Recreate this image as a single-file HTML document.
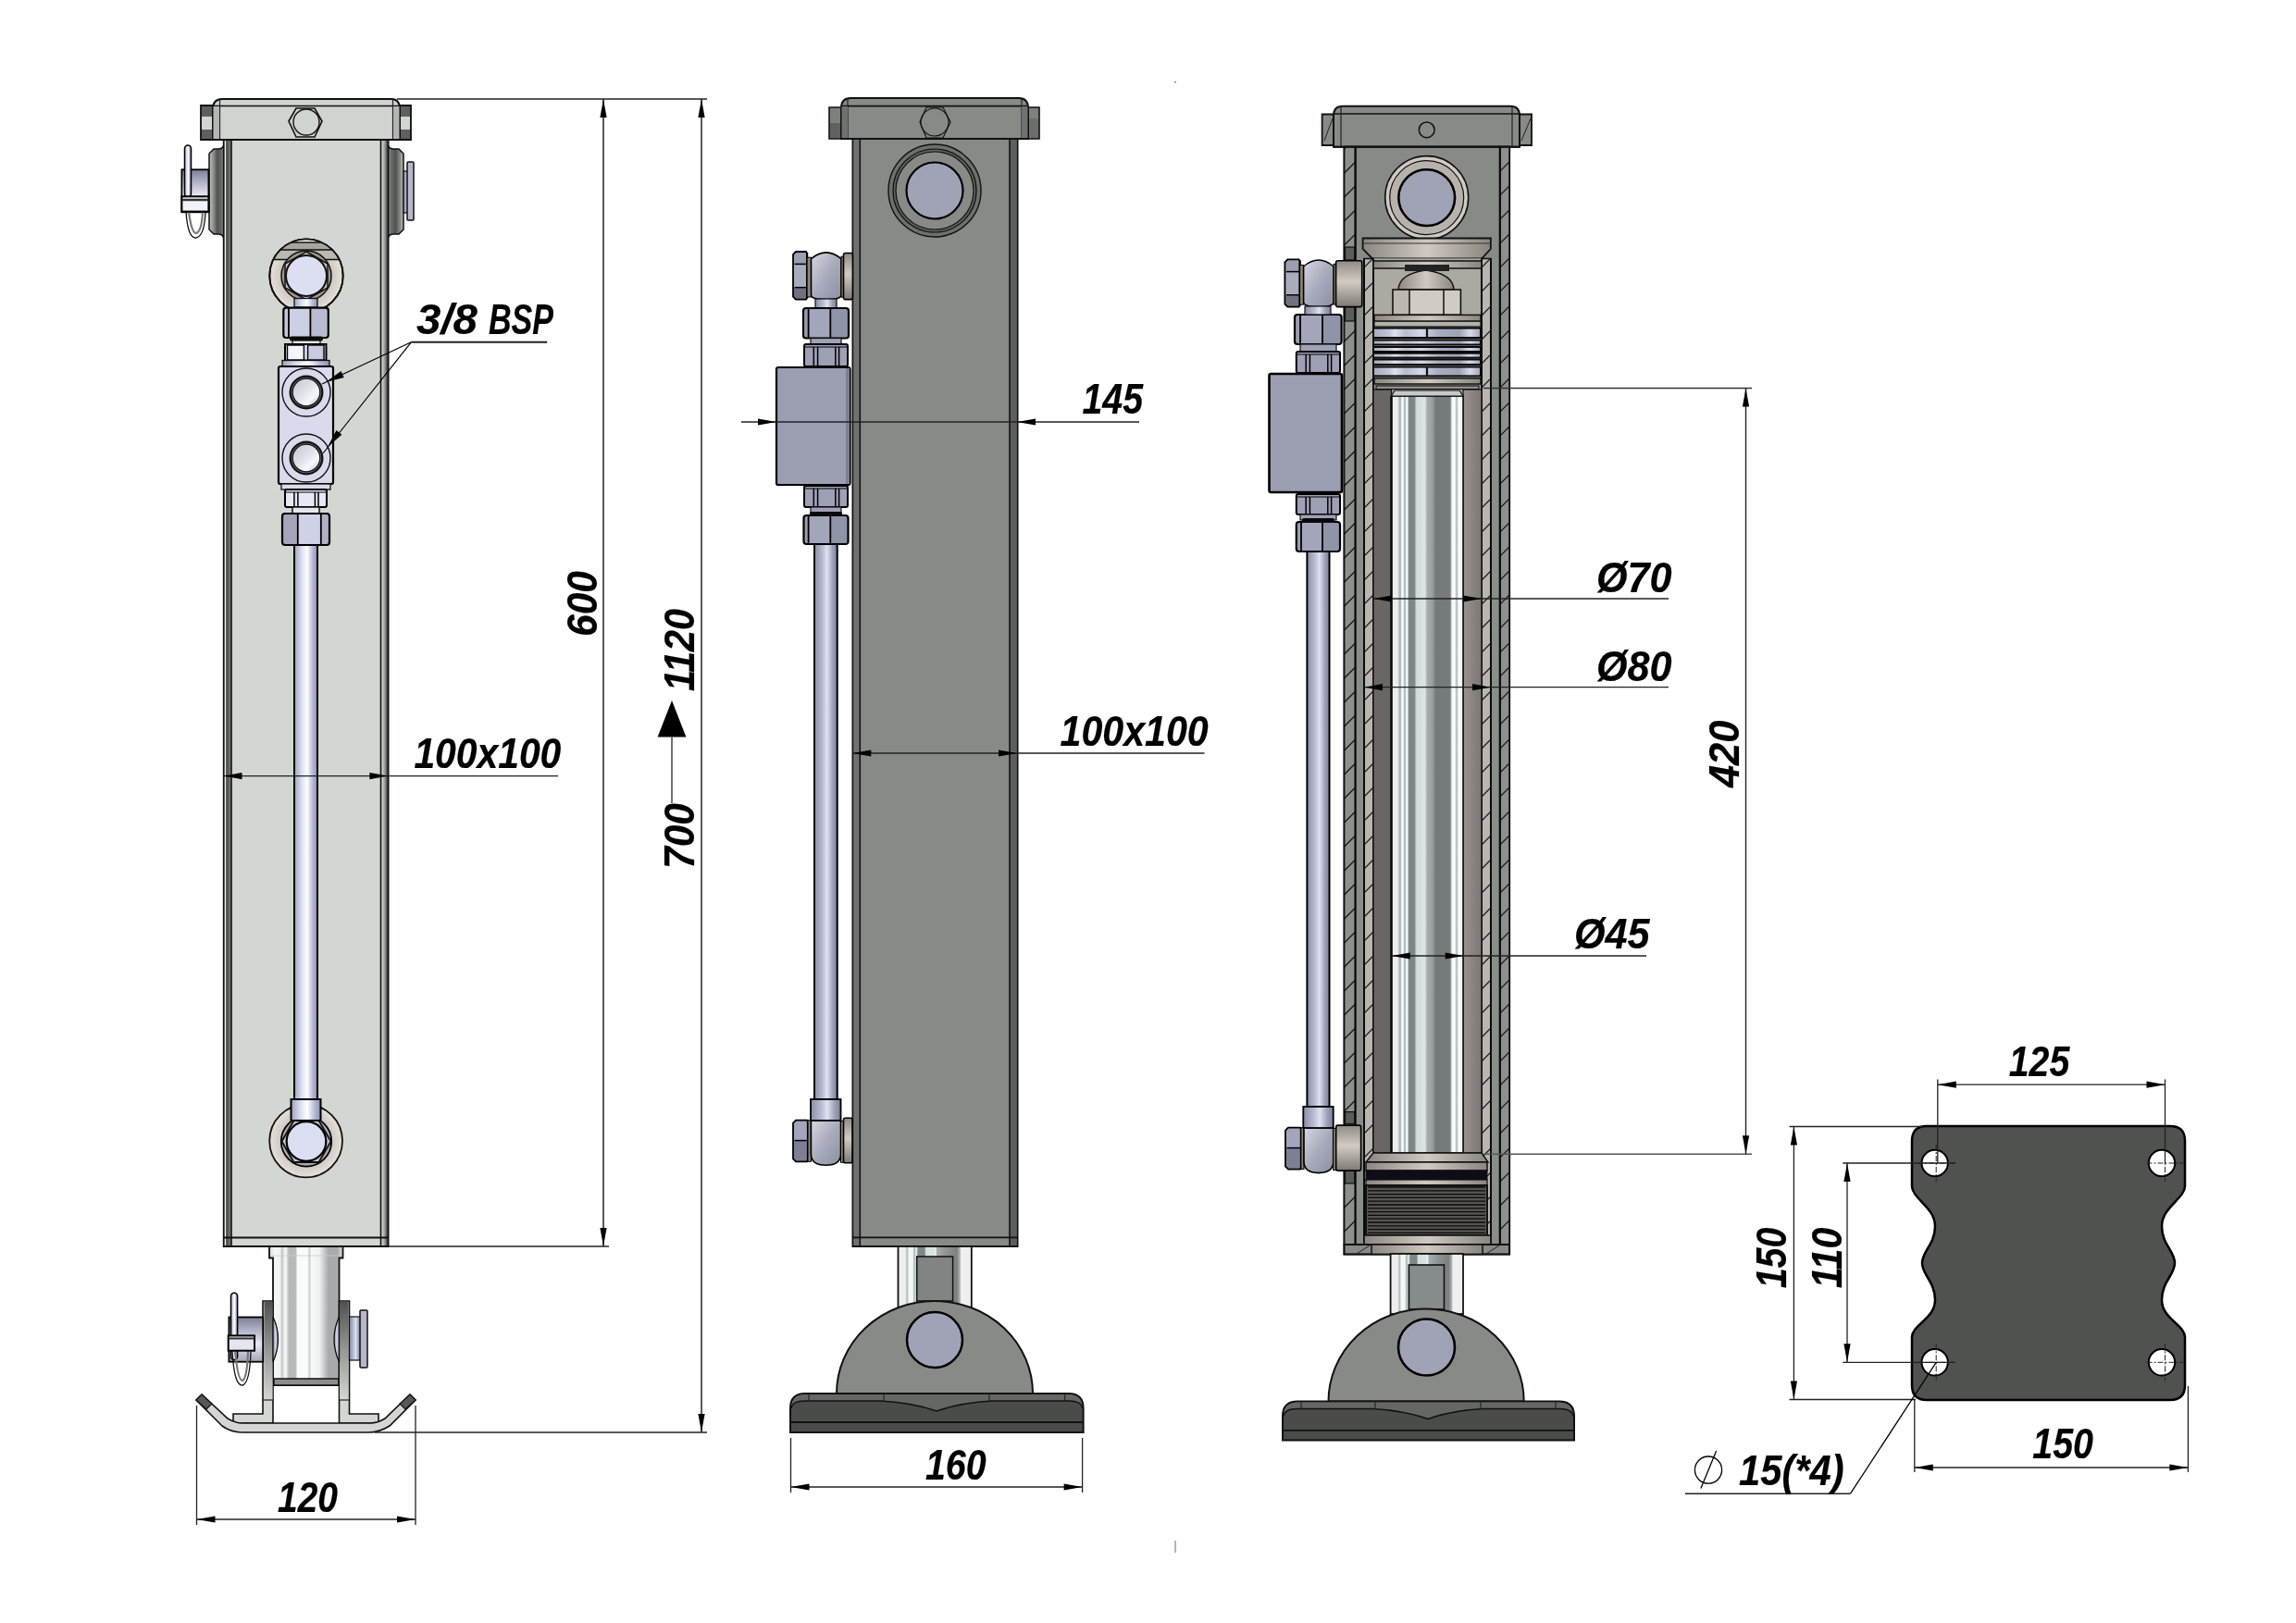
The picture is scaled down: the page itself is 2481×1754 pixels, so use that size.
<!DOCTYPE html>
<html><head><meta charset="utf-8"><style>
html,body{margin:0;padding:0;background:#fff;}
body{width:2481px;height:1754px;overflow:hidden;}
svg{display:block;will-change:transform;}
.t{font-family:"Liberation Sans",sans-serif;font-weight:bold;font-style:italic;fill:#000;stroke:#000;stroke-width:0.2px;}
</style></head><body>
<svg width="2481" height="1754" viewBox="0 0 2481 1754">
<rect width="2481" height="1754" fill="#fff"/>
<defs>
<linearGradient id="gBandL" x1="0" x2="1" y1="0" y2="0"><stop offset="0" stop-color="#f4f6f4"/><stop offset="0.2" stop-color="#f4f6f4"/><stop offset="0.24" stop-color="#4a4c49"/><stop offset="0.5" stop-color="#575a56"/><stop offset="1" stop-color="#868985"/></linearGradient>
<linearGradient id="gBandR" x1="0" x2="1" y1="0" y2="0"><stop offset="0" stop-color="#d0d5cf"/><stop offset="0.25" stop-color="#c9cec8"/><stop offset="0.65" stop-color="#8a8c88"/><stop offset="1" stop-color="#2a2c29"/></linearGradient>
<linearGradient id="gTube" x1="0" x2="1"><stop offset="0" stop-color="#9fa3bd"/><stop offset="0.3" stop-color="#d8dcf0"/><stop offset="0.55" stop-color="#ffffff"/><stop offset="0.8" stop-color="#b4b8d6"/><stop offset="1" stop-color="#8e92aa"/></linearGradient>
<linearGradient id="gTubeD" x1="0" x2="1"><stop offset="0" stop-color="#8a8ea6"/><stop offset="0.35" stop-color="#b9bcd2"/><stop offset="0.55" stop-color="#dfe2f2"/><stop offset="0.8" stop-color="#9da1b8"/><stop offset="1" stop-color="#7d8096"/></linearGradient>
<linearGradient id="gPost" x1="0" x2="1"><stop offset="0.000" stop-color="#d8dcdc"/><stop offset="0.080" stop-color="#f5f7f7"/><stop offset="0.150" stop-color="#f0f2f2"/><stop offset="0.170" stop-color="#c4c8c9"/><stop offset="0.220" stop-color="#fafbfb"/><stop offset="0.270" stop-color="#b4b8b8"/><stop offset="0.360" stop-color="#b8bcbc"/><stop offset="0.380" stop-color="#fafbfb"/><stop offset="0.520" stop-color="#fafbfb"/><stop offset="0.545" stop-color="#c8cccd"/><stop offset="0.570" stop-color="#f6f8f8"/><stop offset="0.680" stop-color="#eef2f2"/><stop offset="0.800" stop-color="#a8acac"/><stop offset="0.920" stop-color="#a6aaab"/><stop offset="1.000" stop-color="#e0e2e2"/></linearGradient><linearGradient id="gPostM" x1="0" x2="1"><stop offset="0.000" stop-color="#eceeee"/><stop offset="0.100" stop-color="#eeeeee"/><stop offset="0.120" stop-color="#b0b3b8"/><stop offset="0.150" stop-color="#f2fafa"/><stop offset="0.200" stop-color="#eef6f6"/><stop offset="0.220" stop-color="#a8aeb0"/><stop offset="0.250" stop-color="#f6f8f8"/><stop offset="0.270" stop-color="#808889"/><stop offset="0.360" stop-color="#7e8687"/><stop offset="0.380" stop-color="#d8e0e2"/><stop offset="0.490" stop-color="#dbe2e4"/><stop offset="0.510" stop-color="#f2f4f4"/><stop offset="0.530" stop-color="#a8adb0"/><stop offset="0.650" stop-color="#8e9394"/><stop offset="0.800" stop-color="#7c8080"/><stop offset="0.840" stop-color="#aab0b0"/><stop offset="0.860" stop-color="#f0f2f2"/><stop offset="1.000" stop-color="#eceeee"/></linearGradient>
<linearGradient id="gGlass" x1="0" x2="1"><stop offset="0.000" stop-color="#e6e9e9"/><stop offset="0.020" stop-color="#eef0f0"/><stop offset="0.090" stop-color="#e8ecec"/><stop offset="0.110" stop-color="#aab5b8"/><stop offset="0.130" stop-color="#b5bec0"/><stop offset="0.145" stop-color="#fafcfc"/><stop offset="0.165" stop-color="#f6f9f9"/><stop offset="0.180" stop-color="#b0babd"/><stop offset="0.195" stop-color="#b8c1c3"/><stop offset="0.210" stop-color="#fafcfc"/><stop offset="0.225" stop-color="#f2f5f5"/><stop offset="0.245" stop-color="#7f8889"/><stop offset="0.320" stop-color="#7d8687"/><stop offset="0.350" stop-color="#d3dbdd"/><stop offset="0.470" stop-color="#dde4e6"/><stop offset="0.500" stop-color="#a6abae"/><stop offset="0.570" stop-color="#9a9fa2"/><stop offset="0.620" stop-color="#74797b"/><stop offset="0.820" stop-color="#767b7c"/><stop offset="0.845" stop-color="#f4f7f7"/><stop offset="0.885" stop-color="#fbfdfd"/><stop offset="0.905" stop-color="#b8c0c2"/><stop offset="0.920" stop-color="#c0c7c9"/><stop offset="0.935" stop-color="#fcfdfd"/><stop offset="1.000" stop-color="#f0f2f2"/></linearGradient>
<linearGradient id="gBall" x1="0" x2="1" y1="0" y2="1"><stop offset="0" stop-color="#d6d8e4"/><stop offset="0.5" stop-color="#a8abbb"/><stop offset="1" stop-color="#8d90a0"/></linearGradient>
<linearGradient id="gCollar" x1="0" x2="0" y1="0" y2="1"><stop offset="0" stop-color="#8f8a84"/><stop offset="0.45" stop-color="#d1cbc2"/><stop offset="1" stop-color="#7e7a75"/></linearGradient>
<linearGradient id="gBeige" x1="0" x2="1"><stop offset="0" stop-color="#8c8782"/><stop offset="0.5" stop-color="#cfc9c1"/><stop offset="1" stop-color="#8a8580"/></linearGradient>
<linearGradient id="gPort" x1="0" y1="0" x2="1" y2="1"><stop offset="0" stop-color="#c4c6d0"/><stop offset="0.5" stop-color="#e2e4ec"/><stop offset="0.7" stop-color="#f7f8fb"/><stop offset="1" stop-color="#b5b7c2"/></linearGradient>
<linearGradient id="gLugL" x1="0" x2="1"><stop offset="0" stop-color="#c3c6c1"/><stop offset="0.3" stop-color="#8a8d89"/><stop offset="0.55" stop-color="#4f524e"/><stop offset="0.85" stop-color="#6a6d69"/><stop offset="1" stop-color="#a9aca7"/></linearGradient>
<linearGradient id="gLugR" x1="0" x2="1"><stop offset="0" stop-color="#a9aca7"/><stop offset="0.2" stop-color="#6a6d69"/><stop offset="0.5" stop-color="#4f524e"/><stop offset="0.8" stop-color="#8a8d89"/><stop offset="1" stop-color="#c3c6c1"/></linearGradient>
<linearGradient id="gDarkR" x1="0" x2="1"><stop offset="0" stop-color="#9a928e"/><stop offset="1" stop-color="#7c7773"/></linearGradient>
<linearGradient id="gSpring" x1="0" x2="1"><stop offset="0" stop-color="#a7abc0"/><stop offset="0.15" stop-color="#c3c6d6"/><stop offset="0.2" stop-color="#dfe2ee"/><stop offset="0.3" stop-color="#b9bccd"/><stop offset="0.45" stop-color="#d5d8e6"/><stop offset="0.6" stop-color="#a9adc0"/><stop offset="0.8" stop-color="#9ea2b5"/><stop offset="0.9" stop-color="#d8dbe8"/><stop offset="1" stop-color="#a0a4b7"/></linearGradient>
<linearGradient id="gBrV" x1="0" x2="0" y1="0" y2="1"><stop offset="0" stop-color="#4f524e"/><stop offset="0.45" stop-color="#8f928e"/><stop offset="1" stop-color="#d3d7d1"/></linearGradient>
<linearGradient id="gCylV" x1="0" x2="0" y1="0" y2="1"><stop offset="0" stop-color="#7d8094"/><stop offset="0.25" stop-color="#a9acc0"/><stop offset="0.6" stop-color="#e6e8f4"/><stop offset="1" stop-color="#a2a5b8"/></linearGradient>
<radialGradient id="gRing" cx="0.5" cy="0.5" r="0.5"><stop offset="0.6" stop-color="#c9c2bb"/><stop offset="1" stop-color="#e6e1dc"/></radialGradient>
</defs>
<path d="M242,154 Q242,161 236,161 L231,161 L226,166 L226,248 L231,253 L236,253 Q242,253 242,260 Z" fill="url(#gLugL)" stroke="#111" stroke-width="1.50" />
<path d="M419,154 Q419,161 425,161 L431,161 L436,166 L436,248 L431,253 L425,253 Q419,253 419,260 Z" fill="url(#gLugR)" stroke="#111" stroke-width="1.50" />
<rect x="196.4" y="183.3" width="29.0" height="46.0" rx="0.0" fill="url(#gCylV)" stroke="#000" stroke-width="1.80" />
<rect x="199.5" y="157.0" width="7.0" height="56.0" rx="3.5" fill="url(#gTube)" stroke="#000" stroke-width="1.50" />
<path d="M201,229 Q203,258 212,257 Q221,255 222,229" fill="none" stroke="#111" stroke-width="1.30" />
<path d="M204,229 Q207,252 212,252 Q218,250 219,229" fill="none" stroke="#777" stroke-width="2.20" />
<rect x="196.4" y="212.3" width="29.0" height="16.3" rx="0.0" fill="#f2f3f8" stroke="#000" stroke-width="2.00" />
<line x1="196.4" y1="216.0" x2="225.4" y2="216.0" stroke="#333" stroke-width="2.50"/>
<rect x="436.0" y="185.0" width="10.0" height="45.0" rx="0.0" fill="url(#gTubeD)" stroke="#111" stroke-width="1.20" />
<rect x="440.0" y="175.0" width="7.0" height="63.0" rx="1.0" fill="#b5b8cc" stroke="#111" stroke-width="1.50" />
<rect x="241.8" y="151.0" width="177.7" height="1196.0" rx="0.0" fill="#d3d7d1" stroke="#111" stroke-width="2.00" />
<rect x="242.8" y="152.0" width="7.2" height="1194.0" rx="0.0" fill="url(#gBandL)" stroke="none" stroke-width="0.00" />
<rect x="411.5" y="152.0" width="7.5" height="1194.0" rx="0.0" fill="url(#gBandR)" stroke="none" stroke-width="0.00" />
<line x1="250.0" y1="151.0" x2="250.0" y2="1347.0" stroke="#111" stroke-width="1.60"/>
<line x1="411.5" y1="151.0" x2="411.5" y2="1347.0" stroke="#111" stroke-width="1.60"/>
<line x1="241.0" y1="1337.5" x2="419.5" y2="1337.5" stroke="#111" stroke-width="1.80"/>
<path d="M217,114 L230,114 L230,151 L217,151 Z" fill="#5e605d" stroke="#111" stroke-width="1.80" />
<rect x="218.0" y="126.0" width="11.0" height="14.0" rx="0.0" fill="#d2d5d0" stroke="none" stroke-width="0.00" />
<path d="M432,114 L444,114 L444,151 L432,151 Z" fill="#5e605d" stroke="#111" stroke-width="1.80" />
<rect x="433.0" y="126.0" width="10.0" height="14.0" rx="0.0" fill="#d2d5d0" stroke="none" stroke-width="0.00" />
<path d="M230,151 L230,118 Q230,107 240,107 L423,107 Q432,107 432,118 L432,151 Z" fill="#d0d4ce" stroke="#111" stroke-width="2.00" />
<line x1="230.0" y1="114.5" x2="432.0" y2="114.5" stroke="#111" stroke-width="1.60"/>
<line x1="237.5" y1="108.0" x2="237.5" y2="151.0" stroke="#222" stroke-width="1.20"/>
<line x1="424.5" y1="108.0" x2="424.5" y2="151.0" stroke="#222" stroke-width="1.20"/>
<rect x="230.5" y="115.0" width="6.5" height="35.0" rx="0.0" fill="#b3b7b1" stroke="none" stroke-width="0.00" />
<rect x="425.0" y="115.0" width="6.5" height="35.0" rx="0.0" fill="#b3b7b1" stroke="none" stroke-width="0.00" />
<line x1="230.0" y1="151.0" x2="432.0" y2="151.0" stroke="#111" stroke-width="2.00"/>
<path d="M312,131 L320,117 L340,117 L348,131 L340,148 L320,148 Z" fill="#d0d4ce" stroke="#111" stroke-width="1.60" />
<circle cx="331.0" cy="132.0" r="14.0" fill="none" stroke="#111" stroke-width="1.40" />
<clipPath id="ringclip"><circle cx="331" cy="298" r="39.7"/></clipPath>
<circle cx="331.0" cy="298.0" r="39.7" fill="url(#gRing)" stroke="#111" stroke-width="1.80" />
<g clip-path="url(#ringclip)"><rect x="290" y="256" width="82" height="6" fill="#f4f2ef"/><rect x="290" y="262" width="82" height="8" fill="#a9a49e"/><rect x="290" y="270" width="82" height="10.5" fill="#bdb8b1"/><line x1="290" y1="262" x2="372" y2="262" stroke="#111" stroke-width="1.3"/><line x1="290" y1="270" x2="372" y2="270" stroke="#111" stroke-width="1.6"/><line x1="290" y1="280.5" x2="372" y2="280.5" stroke="#111" stroke-width="1.3"/></g>
<circle cx="331.0" cy="298.0" r="39.7" fill="none" stroke="#111" stroke-width="1.80" />
<circle cx="331.0" cy="298.0" r="27.0" fill="#9c9791" stroke="#111" stroke-width="1.50" />
<path d="M331,272 L354,285 L354,311 L331,324 L308,311 L308,285 Z" fill="#c7c2bc" stroke="#111" stroke-width="1.50" />
<circle cx="331.0" cy="298.0" r="22.0" fill="#dcdff2" stroke="#111" stroke-width="2.00" />
<rect x="318.0" y="322.5" width="25.0" height="9.5" rx="0.0" fill="url(#gTube)" stroke="#111" stroke-width="1.30" />
<rect x="306.3" y="332.7" width="48.5" height="32.3" rx="0.0" fill="#cdd0e2" stroke="none" stroke-width="0.00" />
<rect x="306.3" y="332.7" width="5.7" height="32.3" rx="0.0" fill="#c4c7d8" stroke="none" stroke-width="0.00" />
<rect x="335.4" y="332.7" width="19.4" height="32.3" rx="0.0" fill="#b9bcd0" stroke="none" stroke-width="0.00" />
<rect x="306.3" y="332.7" width="48.5" height="32.3" rx="3.0" fill="none" stroke="#000" stroke-width="2.20" />
<line x1="312.0" y1="332.7" x2="312.0" y2="365.0" stroke="#000" stroke-width="1.80"/>
<line x1="335.4" y1="332.7" x2="335.4" y2="365.0" stroke="#000" stroke-width="1.80"/>
<rect x="313.0" y="363.5" width="36.0" height="5.0" rx="2.0" fill="#0a0a0a" stroke="none" stroke-width="0.00" />
<rect x="316.0" y="368.0" width="30.0" height="4.5" rx="0.0" fill="#e4e6f0" stroke="#111" stroke-width="1.20" />
<rect x="308.0" y="372.0" width="44.5" height="17.5" rx="0.0" fill="#dadcec" stroke="#000" stroke-width="2.00" />
<rect x="310.5" y="373.0" width="17.9" height="16.0" rx="0.0" fill="#f4f5fb" stroke="#000" stroke-width="1.40" />
<rect x="332.6" y="373.0" width="17.4" height="16.0" rx="0.0" fill="#c9cbe0" stroke="#000" stroke-width="1.40" />
<rect x="305.0" y="389.5" width="51.0" height="6.5" rx="0.0" fill="url(#gTube)" stroke="#111" stroke-width="1.30" />
<rect x="301.0" y="396.0" width="59.0" height="127.0" rx="2.0" fill="#d9dbec" stroke="#000" stroke-width="2.20" />
<circle cx="331.0" cy="424.0" r="26.0" fill="none" stroke="#111" stroke-width="1.40" />
<circle cx="331.0" cy="424.0" r="18.5" fill="#111" stroke="none" stroke-width="0.00" />
<circle cx="331.0" cy="424.0" r="16.3" fill="#6a6b72" stroke="none" stroke-width="0.00" />
<circle cx="331.0" cy="424.0" r="14.8" fill="url(#gPort)" stroke="#111" stroke-width="1.20" />
<circle cx="331.0" cy="495.0" r="26.0" fill="none" stroke="#111" stroke-width="1.40" />
<circle cx="331.0" cy="495.0" r="18.5" fill="#111" stroke="none" stroke-width="0.00" />
<circle cx="331.0" cy="495.0" r="16.3" fill="#6a6b72" stroke="none" stroke-width="0.00" />
<circle cx="331.0" cy="495.0" r="14.8" fill="url(#gPort)" stroke="#111" stroke-width="1.20" />
<rect x="304.0" y="523.0" width="53.0" height="6.0" rx="0.0" fill="#d9dbe8" stroke="#111" stroke-width="1.30" />
<rect x="308.0" y="529.0" width="45.0" height="19.0" rx="2.0" fill="#e6e8f4" stroke="#000" stroke-width="2.00" />
<line x1="317.9" y1="532.0" x2="317.9" y2="548.0" stroke="#000" stroke-width="1.50"/>
<line x1="321.9" y1="532.0" x2="321.9" y2="548.0" stroke="#000" stroke-width="1.50"/>
<line x1="340.4" y1="532.0" x2="340.4" y2="548.0" stroke="#000" stroke-width="1.50"/>
<line x1="344.0" y1="532.0" x2="344.0" y2="548.0" stroke="#000" stroke-width="1.50"/>
<line x1="308.0" y1="532.0" x2="353.0" y2="532.0" stroke="#000" stroke-width="1.20"/>
<rect x="316.0" y="548.0" width="29.0" height="7.0" rx="0.0" fill="#e4e6f0" stroke="#111" stroke-width="1.50" />
<rect x="305.0" y="555.0" width="51.0" height="34.0" rx="0.0" fill="#cfd2e6" stroke="none" stroke-width="0.00" />
<rect x="305.0" y="555.0" width="16.8" height="34.0" rx="0.0" fill="#a3a6ba" stroke="none" stroke-width="0.00" />
<rect x="346.8" y="555.0" width="9.2" height="34.0" rx="0.0" fill="#aeb1c4" stroke="none" stroke-width="0.00" />
<rect x="305.0" y="555.0" width="51.0" height="34.0" rx="3.0" fill="none" stroke="#000" stroke-width="2.20" />
<line x1="321.8" y1="555.0" x2="321.8" y2="589.0" stroke="#000" stroke-width="1.80"/>
<line x1="346.8" y1="555.0" x2="346.8" y2="589.0" stroke="#000" stroke-width="1.80"/>
<rect x="318.0" y="589.0" width="25.0" height="599.0" rx="0.0" fill="url(#gTube)" stroke="#000" stroke-width="2.00" />
<circle cx="330.6" cy="1233.0" r="39.4" fill="url(#gRing)" stroke="#111" stroke-width="1.80" />
<circle cx="331.0" cy="1233.5" r="27.2" fill="#aaa6a8" stroke="#000" stroke-width="1.80" />
<path d="M304.5,1233.5 L317.5,1211 L344.5,1211 L357.5,1233.5 L344.5,1256 L317.5,1256 Z" fill="#c4c2c8" stroke="#111" stroke-width="1.80" />
<circle cx="331.0" cy="1233.5" r="21.3" fill="#dcdff2" stroke="#000" stroke-width="2.20" />
<rect x="314.5" y="1188.0" width="32.0" height="23.0" rx="0.0" fill="url(#gTube)" stroke="#000" stroke-width="2.00" />
<path d="M291,1347 L370.5,1347 L370.5,1359.5 L366.5,1359.5 L366.5,1497 L295,1497 L295,1359.5 L291,1359.5 Z" fill="url(#gPost)" stroke="#111" stroke-width="1.80" />
<line x1="293.0" y1="1357.0" x2="368.0" y2="1357.0" stroke="#c9cccc" stroke-width="0.80"/>
<rect x="296.0" y="1490.0" width="70.0" height="7.0" rx="0.0" fill="#8a8e8d" stroke="#111" stroke-width="1.50" />
<path d="M284,1406 L295,1406 L295,1538 L252,1538 L252,1528 L284,1528 Z" fill="#d3d7d1" stroke="#111" stroke-width="1.60" />
<path d="M366.5,1406 L377.5,1406 L377.5,1528 L409,1528 L409,1538 L366.5,1538 Z" fill="#d3d7d1" stroke="#111" stroke-width="1.60" />
<rect x="285.5" y="1407.0" width="9.0" height="106.0" rx="0.0" fill="url(#gBrV)" stroke="none" stroke-width="0.00" />
<rect x="367.0" y="1407.0" width="9.5" height="106.0" rx="0.0" fill="url(#gBrV)" stroke="none" stroke-width="0.00" />
<line x1="284.0" y1="1513.0" x2="295.0" y2="1513.0" stroke="#222" stroke-width="1.20"/>
<line x1="366.5" y1="1513.0" x2="377.5" y2="1513.0" stroke="#222" stroke-width="1.20"/>
<path d="M295,1423 Q306,1447 295,1472 Z" fill="url(#gTubeD)" stroke="#111" stroke-width="1.30" />
<path d="M366.5,1423 Q355.5,1447 366.5,1472 Z" fill="url(#gTubeD)" stroke="#111" stroke-width="1.30" />
<path d="M212,1513 L218,1507 L246,1533 Q254,1538 262,1538 L400,1538 Q408,1538 416,1533 L443,1507 L449,1513 L421,1541 Q410,1548 398,1548 L262,1548 Q250,1548 240,1541 Z" fill="#d3d7d1" stroke="#111" stroke-width="1.60" />
<path d="M212,1513 L218,1507 L229,1517 L223,1523 Z" fill="#555855" stroke="#111" stroke-width="1.20" />
<path d="M449,1513 L443,1507 L432,1517 L438,1523 Z" fill="#555855" stroke="#111" stroke-width="1.20" />
<rect x="247.4" y="1423.5" width="36.8" height="48.2" rx="0.0" fill="url(#gCylV)" stroke="#000" stroke-width="1.80" />
<rect x="249.5" y="1397.3" width="7.1" height="72.3" rx="3.5" fill="url(#gTube)" stroke="#000" stroke-width="1.50" />
<path d="M251,1460 Q253,1498 262,1497 Q270,1495 271,1460" fill="none" stroke="#111" stroke-width="1.30" />
<path d="M254,1460 Q257,1492 262,1492 Q267,1490 268,1460" fill="none" stroke="#777" stroke-width="2.20" />
<rect x="246.7" y="1443.4" width="28.3" height="16.3" rx="0.0" fill="#e4e5f0" stroke="#000" stroke-width="2.00" />
<line x1="246.7" y1="1446.5" x2="275.0" y2="1446.5" stroke="#333" stroke-width="2.00"/>
<rect x="377.5" y="1423.0" width="12.5" height="47.0" rx="0.0" fill="url(#gTubeD)" stroke="#111" stroke-width="1.20" />
<rect x="389.0" y="1416.0" width="8.0" height="62.0" rx="1.0" fill="#b5b8cc" stroke="#111" stroke-width="1.50" />
<line x1="429.0" y1="107.0" x2="764.0" y2="107.0" stroke="#222" stroke-width="1.60"/>
<line x1="420.0" y1="1347.0" x2="658.0" y2="1347.0" stroke="#222" stroke-width="1.50"/>
<line x1="405.0" y1="1548.0" x2="764.0" y2="1548.0" stroke="#222" stroke-width="1.50"/>
<line x1="652.0" y1="107.0" x2="652.0" y2="1347.0" stroke="#222" stroke-width="1.50"/>
<polygon points="652.0,107.0 648.4,127.0 655.6,127.0" fill="#000"/>
<polygon points="652.0,1347.0 648.4,1327.0 655.6,1327.0" fill="#000"/>
<line x1="758.0" y1="107.0" x2="758.0" y2="1548.0" stroke="#222" stroke-width="1.50"/>
<polygon points="758.0,107.0 754.4,127.0 761.6,127.0" fill="#000"/>
<polygon points="758.0,1548.0 754.4,1528.0 761.6,1528.0" fill="#000"/>
<text transform="translate(645.0,688.0) rotate(-90)" x="0" y="0" font-size="46" textLength="71.0" lengthAdjust="spacingAndGlyphs" class="t">600</text>
<text transform="translate(750.0,747.0) rotate(-90)" x="0" y="0" font-size="46" textLength="89.0" lengthAdjust="spacingAndGlyphs" class="t">1120</text>
<polygon points="726,757 710.6,796.5 741.4,796.5" fill="#000"/>
<line x1="726.0" y1="796.5" x2="726.0" y2="868.0" stroke="#444" stroke-width="1.50"/>
<text transform="translate(750.0,939.0) rotate(-90)" x="0" y="0" font-size="46" textLength="71.0" lengthAdjust="spacingAndGlyphs" class="t">700</text>
<line x1="212.5" y1="1519.0" x2="212.5" y2="1648.0" stroke="#222" stroke-width="1.30"/>
<line x1="449.0" y1="1519.0" x2="449.0" y2="1648.0" stroke="#222" stroke-width="1.30"/>
<line x1="212.5" y1="1642.0" x2="449.0" y2="1642.0" stroke="#222" stroke-width="1.30"/>
<polygon points="212.5,1642.0 232.5,1638.4 232.5,1645.6" fill="#000"/>
<polygon points="449.0,1642.0 429.0,1638.4 429.0,1645.6" fill="#000"/>
<text x="300.0" y="1634.0" font-size="46" textLength="65.0" lengthAdjust="spacingAndGlyphs" class="t">120</text>
<line x1="241.5" y1="838.6" x2="603.0" y2="838.6" stroke="#222" stroke-width="1.30"/>
<polygon points="241.5,838.6 261.5,835.0 261.5,842.2" fill="#000"/>
<polygon points="419.4,838.6 399.4,835.0 399.4,842.2" fill="#000"/>
<text x="447.4" y="830.4" font-size="46" textLength="158.9" lengthAdjust="spacingAndGlyphs" class="t">100x100</text>
<text x="450.0" y="361.0" font-size="46" textLength="66.0" lengthAdjust="spacingAndGlyphs" class="t">3/8</text>
<text x="528.0" y="361.0" font-size="46" textLength="70.0" lengthAdjust="spacingAndGlyphs" class="t">BSP</text>
<line x1="444.3" y1="369.8" x2="591.2" y2="369.8" stroke="#222" stroke-width="2.00"/>
<line x1="444.3" y1="369.8" x2="348.0" y2="415.0" stroke="#000" stroke-width="1.20"/>
<line x1="444.3" y1="369.8" x2="349.0" y2="490.0" stroke="#000" stroke-width="1.20"/>
<polygon points="352.0,413.0 371.7,408.0 368.5,401.1" fill="#000"/>
<polygon points="354.0,483.0 369.4,469.7 363.5,465.0" fill="#000"/>
<path d="M896,116 L909,116 L909,150 L896,150 Z" fill="#7d817d" stroke="#111" stroke-width="1.60" />
<rect x="897.0" y="133.0" width="11.0" height="16.0" rx="0.0" fill="#5f625f" stroke="none" stroke-width="0.00" />
<path d="M1111,116 L1123,116 L1123,150 L1111,150 Z" fill="#6c706c" stroke="#111" stroke-width="1.60" />
<rect x="1112.0" y="117.0" width="10.0" height="11.0" rx="0.0" fill="#7d817d" stroke="none" stroke-width="0.00" />
<path d="M909,150 L909,117 Q909,106 919,106 L1101,106 Q1111,106 1111,117 L1111,150 Z" fill="#868b86" stroke="#111" stroke-width="2.00" />
<line x1="909.0" y1="114.6" x2="1111.0" y2="114.6" stroke="#111" stroke-width="1.60"/>
<line x1="916.0" y1="107.0" x2="916.0" y2="150.0" stroke="#222" stroke-width="1.20"/>
<line x1="1104.0" y1="107.0" x2="1104.0" y2="150.0" stroke="#222" stroke-width="1.20"/>
<rect x="909.5" y="115.0" width="6.5" height="34.0" rx="0.0" fill="#6f736f" stroke="none" stroke-width="0.00" />
<rect x="1104.0" y="115.0" width="6.5" height="34.0" rx="0.0" fill="#6f736f" stroke="none" stroke-width="0.00" />
<path d="M994,132 L1001,116 L1019,116 L1027,132 L1019,149 L1001,149 Z" fill="#868b86" stroke="#111" stroke-width="1.20" />
<circle cx="1010.0" cy="132.0" r="15.0" fill="none" stroke="#111" stroke-width="1.10" />
<rect x="921.5" y="150.0" width="178.0" height="1197.0" rx="0.0" fill="#868b86" stroke="#111" stroke-width="2.00" />
<rect x="922.5" y="151.0" width="6.5" height="1195.0" rx="0.0" fill="#6f736f" stroke="none" stroke-width="0.00" />
<rect x="1091.0" y="151.0" width="7.5" height="1195.0" rx="0.0" fill="#5c605c" stroke="none" stroke-width="0.00" />
<line x1="929.3" y1="150.0" x2="929.3" y2="1347.0" stroke="#111" stroke-width="1.60"/>
<line x1="1091.0" y1="150.0" x2="1091.0" y2="1347.0" stroke="#111" stroke-width="1.60"/>
<line x1="921.5" y1="1337.4" x2="1099.5" y2="1337.4" stroke="#111" stroke-width="1.80"/>
<line x1="909.0" y1="150.0" x2="1111.0" y2="150.0" stroke="#111" stroke-width="2.00"/>
<circle cx="1010.0" cy="206.0" r="50.0" fill="#6d716d" stroke="#111" stroke-width="1.40" />
<circle cx="1010.0" cy="206.0" r="45.0" fill="#5d605d" stroke="#111" stroke-width="1.20" />
<circle cx="1010.0" cy="206.0" r="42.0" fill="#868b86" stroke="#111" stroke-width="1.20" />
<circle cx="1010.0" cy="206.0" r="30.5" fill="#a0a3b6" stroke="#000" stroke-width="2.20" />
<path d="M860.0,272.0 L871.1,272.0 L872.1,274.0 L872.1,321.6 L871.1,323.6 L860.0,323.6 L857.0,320.6 L857.0,275.0 Z" fill="#a4a7b8" stroke="none" stroke-width="0.00" />
<rect x="858.0" y="272.5" width="13.6" height="12.4" rx="0.0" fill="#9c9fb0" stroke="none" stroke-width="0.00" />
<rect x="858.0" y="285.9" width="13.6" height="24.3" rx="0.0" fill="#a9acbd" stroke="none" stroke-width="0.00" />
<rect x="858.0" y="311.2" width="13.6" height="11.9" rx="0.0" fill="#70737f" stroke="none" stroke-width="0.00" />
<path d="M860.0,272.0 L871.1,272.0 L872.1,274.0 L872.1,321.6 L871.1,323.6 L860.0,323.6 L857.0,320.6 L857.0,275.0 Z" fill="none" stroke="#000" stroke-width="1.80" />
<line x1="858.5" y1="285.4" x2="872.1" y2="285.4" stroke="#000" stroke-width="1.50"/>
<line x1="858.5" y1="310.7" x2="872.1" y2="310.7" stroke="#000" stroke-width="1.50"/>
<line x1="872.1" y1="273.0" x2="872.1" y2="322.6" stroke="#000" stroke-width="2.20"/>
<rect x="872.1" y="278.2" width="4.4" height="42.8" rx="0.0" fill="#8d857c" stroke="#000" stroke-width="1.00" />
<path d="M876.5,279.7 Q892.8,266.1 909.0,279.7 L909.0,318.4 Q909.0,323.6 892.8,323.6 Q876.5,323.6 876.5,318.4 Z" fill="url(#gBall)" stroke="#000" stroke-width="1.60" />
<rect x="909.0" y="277.2" width="2.5" height="43.9" rx="0.0" fill="#8d857c" stroke="#000" stroke-width="1.00" />
<rect x="911.5" y="273.5" width="9.9" height="50.1" rx="2.0" fill="url(#gCollar)" stroke="#000" stroke-width="1.60" />
<rect x="881.0" y="323.0" width="23.0" height="10.0" rx="0.0" fill="url(#gTubeD)" stroke="#111" stroke-width="1.20" />
<rect x="868.0" y="333.0" width="49.0" height="32.5" rx="0.0" fill="#a3a6ba" stroke="none" stroke-width="0.00" />
<rect x="868.0" y="333.0" width="5.6" height="32.5" rx="0.0" fill="#9b9eb2" stroke="none" stroke-width="0.00" />
<rect x="897.3" y="333.0" width="19.7" height="32.5" rx="0.0" fill="#9094a8" stroke="none" stroke-width="0.00" />
<rect x="868.0" y="333.0" width="49.0" height="32.5" rx="3.0" fill="none" stroke="#000" stroke-width="2.20" />
<line x1="873.6" y1="333.0" x2="873.6" y2="365.5" stroke="#000" stroke-width="1.80"/>
<line x1="897.3" y1="333.0" x2="897.3" y2="365.5" stroke="#000" stroke-width="1.80"/>
<rect x="876.0" y="365.5" width="33.0" height="6.5" rx="0.0" fill="#9fa2b6" stroke="#111" stroke-width="1.20" />
<rect x="869.0" y="372.0" width="47.0" height="24.0" rx="2.0" fill="#9ea1b5" stroke="#000" stroke-width="2.00" />
<line x1="879.3" y1="375.0" x2="879.3" y2="396.0" stroke="#000" stroke-width="1.50"/>
<line x1="883.6" y1="375.0" x2="883.6" y2="396.0" stroke="#000" stroke-width="1.50"/>
<line x1="902.8" y1="375.0" x2="902.8" y2="396.0" stroke="#000" stroke-width="1.50"/>
<line x1="906.6" y1="375.0" x2="906.6" y2="396.0" stroke="#000" stroke-width="1.50"/>
<line x1="869.0" y1="375.0" x2="916.0" y2="375.0" stroke="#000" stroke-width="1.20"/>
<rect x="839.0" y="397.0" width="79.5" height="127.0" rx="2.0" fill="#9a9eb0" stroke="#000" stroke-width="2.20" />
<rect x="914.0" y="398.0" width="4.0" height="125.0" rx="0.0" fill="#7c8090" stroke="none" stroke-width="0.00" />
<rect x="869.0" y="525.0" width="47.0" height="23.0" rx="2.0" fill="#9ea1b5" stroke="#000" stroke-width="2.00" />
<line x1="879.3" y1="528.0" x2="879.3" y2="548.0" stroke="#000" stroke-width="1.50"/>
<line x1="883.6" y1="528.0" x2="883.6" y2="548.0" stroke="#000" stroke-width="1.50"/>
<line x1="902.8" y1="528.0" x2="902.8" y2="548.0" stroke="#000" stroke-width="1.50"/>
<line x1="906.6" y1="528.0" x2="906.6" y2="548.0" stroke="#000" stroke-width="1.50"/>
<line x1="869.0" y1="528.0" x2="916.0" y2="528.0" stroke="#000" stroke-width="1.20"/>
<rect x="876.0" y="548.0" width="33.0" height="7.0" rx="0.0" fill="#9fa2b6" stroke="#111" stroke-width="1.20" />
<rect x="868.5" y="557.0" width="48.0" height="31.0" rx="0.0" fill="#a3a6ba" stroke="none" stroke-width="0.00" />
<rect x="868.5" y="557.0" width="5.1" height="31.0" rx="0.0" fill="#9b9eb2" stroke="none" stroke-width="0.00" />
<rect x="897.3" y="557.0" width="19.2" height="31.0" rx="0.0" fill="#9094a8" stroke="none" stroke-width="0.00" />
<rect x="868.5" y="557.0" width="48.0" height="31.0" rx="3.0" fill="none" stroke="#000" stroke-width="2.20" />
<line x1="873.6" y1="557.0" x2="873.6" y2="588.0" stroke="#000" stroke-width="1.80"/>
<line x1="897.3" y1="557.0" x2="897.3" y2="588.0" stroke="#000" stroke-width="1.80"/>
<rect x="875.0" y="553.0" width="35.0" height="5.0" rx="2.0" fill="#0a0a0a" stroke="none" stroke-width="0.00" />
<rect x="880.0" y="588.0" width="24.7" height="600.0" rx="0.0" fill="url(#gTubeD)" stroke="#000" stroke-width="2.00" />
<path d="M860.0,1210.7 L872.0,1210.7 L873.0,1212.7 L873.0,1253.3 L872.0,1255.3 L860.0,1255.3 L857.0,1252.3 L857.0,1213.7 Z" fill="#a4a7b8" stroke="none" stroke-width="0.00" />
<rect x="858.0" y="1211.2" width="14.5" height="20.9" rx="0.0" fill="#a3a6ba" stroke="none" stroke-width="0.00" />
<rect x="858.0" y="1233.1" width="14.5" height="21.7" rx="0.0" fill="#7d8092" stroke="none" stroke-width="0.00" />
<path d="M860.0,1210.7 L872.0,1210.7 L873.0,1212.7 L873.0,1253.3 L872.0,1255.3 L860.0,1255.3 L857.0,1252.3 L857.0,1213.7 Z" fill="none" stroke="#000" stroke-width="1.80" />
<line x1="858.5" y1="1232.6" x2="873.0" y2="1232.6" stroke="#000" stroke-width="1.50"/>
<line x1="873.0" y1="1211.7" x2="873.0" y2="1254.3" stroke="#000" stroke-width="2.20"/>
<rect x="873.0" y="1210.7" width="3.4" height="44.6" rx="0.0" fill="#8d857c" stroke="#000" stroke-width="1.00" />
<path d="M876.4,1210.7 L908.5,1210.7 L908.5,1247.3 Q908.5,1259.3 892.5,1259.3 Q876.4,1259.3 876.4,1247.3 Z" fill="url(#gBall)" stroke="#000" stroke-width="1.60" />
<rect x="908.5" y="1211.7" width="3.0" height="44.6" rx="0.0" fill="#8d857c" stroke="#000" stroke-width="1.00" />
<rect x="911.5" y="1208.2" width="9.5" height="48.6" rx="2.0" fill="url(#gCollar)" stroke="#000" stroke-width="1.60" />
<rect x="876.0" y="1188.0" width="32.5" height="23.0" rx="0.0" fill="url(#gTubeD)" stroke="#000" stroke-width="1.80" />
<rect x="970.5" y="1347.0" width="79.3" height="67.0" rx="0.0" fill="url(#gPostM)" stroke="#111" stroke-width="1.80" />
<rect x="990.7" y="1358.0" width="38.9" height="48.0" rx="0.0" fill="#808584" stroke="#111" stroke-width="1.50" />
<path d="M904,1506 A106,100 0 0 1 1116,1506 Z" fill="#868b86" stroke="#111" stroke-width="2.00" />
<circle cx="1010.0" cy="1448.0" r="30.0" fill="#a0a3b6" stroke="#000" stroke-width="2.50" />
<path d="M854.0,1548.0 L854.0,1522.0 Q854.0,1506.0 870.0,1506.0 L1154.6,1506.0 Q1170.6,1506.0 1170.6,1522.0 L1170.6,1548.0 Z" fill="#4a4c49" stroke="#111" stroke-width="2.00" />
<path d="M855.0,1522.0 Q856.0,1514.0 870.0,1514.0 L952.0,1514.0 Q987.0,1516.0 1012.0,1525.0 Q1037.0,1516.0 1072.0,1514.0 L1154.6,1514.0 Q1168.6,1514.0 1169.6,1522.0 L1169.6,1522.0 Q1169.6,1507.0 1154.6,1507.0 L870.0,1507.0 Q855.0,1507.0 855.0,1522.0 Z" fill="#646763" stroke="none" stroke-width="0.00" />
<path d="M855.0,1522.0 Q856.0,1514.0 870.0,1514.0 L952.0,1514.0 Q987.0,1516.0 1012.0,1525.0 Q1037.0,1516.0 1072.0,1514.0 L1154.6,1514.0 Q1168.6,1514.0 1169.6,1522.0" fill="none" stroke="#111" stroke-width="1.60" />
<line x1="874.0" y1="1506.0" x2="874.0" y2="1514.0" stroke="#222" stroke-width="1.10"/>
<line x1="955.0" y1="1506.0" x2="955.0" y2="1514.0" stroke="#222" stroke-width="1.10"/>
<line x1="1069.0" y1="1506.0" x2="1069.0" y2="1514.0" stroke="#222" stroke-width="1.10"/>
<line x1="1150.6" y1="1506.0" x2="1150.6" y2="1514.0" stroke="#222" stroke-width="1.10"/>
<line x1="854.0" y1="1537.0" x2="1170.6" y2="1537.0" stroke="#111" stroke-width="1.80"/>
<line x1="801.0" y1="456.0" x2="1231.0" y2="456.0" stroke="#222" stroke-width="1.30"/>
<polygon points="839.0,456.0 819.0,452.4 819.0,459.6" fill="#000"/>
<polygon points="1099.0,456.0 1119.0,452.4 1119.0,459.6" fill="#000"/>
<text x="1169.5" y="447.3" font-size="46" textLength="65.5" lengthAdjust="spacingAndGlyphs" class="t">145</text>
<line x1="921.3" y1="814.0" x2="1301.5" y2="814.0" stroke="#222" stroke-width="1.30"/>
<polygon points="921.3,814.0 941.3,810.4 941.3,817.6" fill="#000"/>
<polygon points="1099.0,814.0 1079.0,810.4 1079.0,817.6" fill="#000"/>
<text x="1145.5" y="806.0" font-size="46" textLength="160.2" lengthAdjust="spacingAndGlyphs" class="t">100x100</text>
<line x1="854.5" y1="1554.0" x2="854.5" y2="1613.0" stroke="#222" stroke-width="1.30"/>
<line x1="1169.6" y1="1554.0" x2="1169.6" y2="1613.0" stroke="#222" stroke-width="1.30"/>
<line x1="854.5" y1="1607.0" x2="1169.6" y2="1607.0" stroke="#222" stroke-width="1.30"/>
<polygon points="854.5,1607.0 874.5,1603.4 874.5,1610.6" fill="#000"/>
<polygon points="1169.6,1607.0 1149.6,1603.4 1149.6,1610.6" fill="#000"/>
<text x="1000.0" y="1598.7" font-size="46" textLength="65.6" lengthAdjust="spacingAndGlyphs" class="t">160</text>
<path d="M1428.6,123.5 L1441,123.5 L1441,157 L1428.6,157 Z" fill="#878b86" stroke="#111" stroke-width="1.80" />
<line x1="1431.0" y1="152.0" x2="1440.0" y2="128.0" stroke="#222" stroke-width="1.00"/>
<path d="M1642,123.5 L1655,123.5 L1655,157 L1642,157 Z" fill="#878b86" stroke="#111" stroke-width="1.80" />
<line x1="1644.0" y1="152.0" x2="1654.0" y2="128.0" stroke="#222" stroke-width="1.00"/>
<path d="M1441,158.7 L1441,125 Q1441,114.7 1451,114.7 L1632,114.7 Q1642,114.7 1642,125 L1642,158.7 Z" fill="#878b86" stroke="#111" stroke-width="2.00" />
<line x1="1441.0" y1="123.0" x2="1642.0" y2="123.0" stroke="#111" stroke-width="1.60"/>
<line x1="1449.0" y1="115.0" x2="1449.0" y2="158.0" stroke="#222" stroke-width="1.20"/>
<line x1="1634.0" y1="115.0" x2="1634.0" y2="158.0" stroke="#222" stroke-width="1.20"/>
<circle cx="1541.7" cy="140.3" r="8.4" fill="none" stroke="#111" stroke-width="1.50" />
<rect x="1452.6" y="158.7" width="178.4" height="1196.7" rx="0.0" fill="#878b86" stroke="#111" stroke-width="2.20" />
<rect x="1452.6" y="158.7" width="12.0" height="1186.3" rx="0.0" fill="#8d918c" stroke="#111" stroke-width="1.60" />
<clipPath id="h1452_158"><rect x="1452.6" y="158.7" width="12.0" height="1186.3"/></clipPath>
<g clip-path="url(#h1452_158)"><line x1="1452.6" y1="1357.0" x2="1464.6" y2="1345.0" stroke="#111" stroke-width="1.20"/><line x1="1452.6" y1="1331.0" x2="1464.6" y2="1319.0" stroke="#111" stroke-width="1.20"/><line x1="1452.6" y1="1305.0" x2="1464.6" y2="1293.0" stroke="#111" stroke-width="1.20"/><line x1="1452.6" y1="1279.0" x2="1464.6" y2="1267.0" stroke="#111" stroke-width="1.20"/><line x1="1452.6" y1="1253.0" x2="1464.6" y2="1241.0" stroke="#111" stroke-width="1.20"/><line x1="1452.6" y1="1227.0" x2="1464.6" y2="1215.0" stroke="#111" stroke-width="1.20"/><line x1="1452.6" y1="1201.0" x2="1464.6" y2="1189.0" stroke="#111" stroke-width="1.20"/><line x1="1452.6" y1="1175.0" x2="1464.6" y2="1163.0" stroke="#111" stroke-width="1.20"/><line x1="1452.6" y1="1149.0" x2="1464.6" y2="1137.0" stroke="#111" stroke-width="1.20"/><line x1="1452.6" y1="1123.0" x2="1464.6" y2="1111.0" stroke="#111" stroke-width="1.20"/><line x1="1452.6" y1="1097.0" x2="1464.6" y2="1085.0" stroke="#111" stroke-width="1.20"/><line x1="1452.6" y1="1071.0" x2="1464.6" y2="1059.0" stroke="#111" stroke-width="1.20"/><line x1="1452.6" y1="1045.0" x2="1464.6" y2="1033.0" stroke="#111" stroke-width="1.20"/><line x1="1452.6" y1="1019.0" x2="1464.6" y2="1007.0" stroke="#111" stroke-width="1.20"/><line x1="1452.6" y1="993.0" x2="1464.6" y2="981.0" stroke="#111" stroke-width="1.20"/><line x1="1452.6" y1="967.0" x2="1464.6" y2="955.0" stroke="#111" stroke-width="1.20"/><line x1="1452.6" y1="941.0" x2="1464.6" y2="929.0" stroke="#111" stroke-width="1.20"/><line x1="1452.6" y1="915.0" x2="1464.6" y2="903.0" stroke="#111" stroke-width="1.20"/><line x1="1452.6" y1="889.0" x2="1464.6" y2="877.0" stroke="#111" stroke-width="1.20"/><line x1="1452.6" y1="863.0" x2="1464.6" y2="851.0" stroke="#111" stroke-width="1.20"/><line x1="1452.6" y1="837.0" x2="1464.6" y2="825.0" stroke="#111" stroke-width="1.20"/><line x1="1452.6" y1="811.0" x2="1464.6" y2="799.0" stroke="#111" stroke-width="1.20"/><line x1="1452.6" y1="785.0" x2="1464.6" y2="773.0" stroke="#111" stroke-width="1.20"/><line x1="1452.6" y1="759.0" x2="1464.6" y2="747.0" stroke="#111" stroke-width="1.20"/><line x1="1452.6" y1="733.0" x2="1464.6" y2="721.0" stroke="#111" stroke-width="1.20"/><line x1="1452.6" y1="707.0" x2="1464.6" y2="695.0" stroke="#111" stroke-width="1.20"/><line x1="1452.6" y1="681.0" x2="1464.6" y2="669.0" stroke="#111" stroke-width="1.20"/><line x1="1452.6" y1="655.0" x2="1464.6" y2="643.0" stroke="#111" stroke-width="1.20"/><line x1="1452.6" y1="629.0" x2="1464.6" y2="617.0" stroke="#111" stroke-width="1.20"/><line x1="1452.6" y1="603.0" x2="1464.6" y2="591.0" stroke="#111" stroke-width="1.20"/><line x1="1452.6" y1="577.0" x2="1464.6" y2="565.0" stroke="#111" stroke-width="1.20"/><line x1="1452.6" y1="551.0" x2="1464.6" y2="539.0" stroke="#111" stroke-width="1.20"/><line x1="1452.6" y1="525.0" x2="1464.6" y2="513.0" stroke="#111" stroke-width="1.20"/><line x1="1452.6" y1="499.0" x2="1464.6" y2="487.0" stroke="#111" stroke-width="1.20"/><line x1="1452.6" y1="473.0" x2="1464.6" y2="461.0" stroke="#111" stroke-width="1.20"/><line x1="1452.6" y1="447.0" x2="1464.6" y2="435.0" stroke="#111" stroke-width="1.20"/><line x1="1452.6" y1="421.0" x2="1464.6" y2="409.0" stroke="#111" stroke-width="1.20"/><line x1="1452.6" y1="395.0" x2="1464.6" y2="383.0" stroke="#111" stroke-width="1.20"/><line x1="1452.6" y1="369.0" x2="1464.6" y2="357.0" stroke="#111" stroke-width="1.20"/><line x1="1452.6" y1="343.0" x2="1464.6" y2="331.0" stroke="#111" stroke-width="1.20"/><line x1="1452.6" y1="317.0" x2="1464.6" y2="305.0" stroke="#111" stroke-width="1.20"/><line x1="1452.6" y1="291.0" x2="1464.6" y2="279.0" stroke="#111" stroke-width="1.20"/><line x1="1452.6" y1="265.0" x2="1464.6" y2="253.0" stroke="#111" stroke-width="1.20"/><line x1="1452.6" y1="239.0" x2="1464.6" y2="227.0" stroke="#111" stroke-width="1.20"/><line x1="1452.6" y1="213.0" x2="1464.6" y2="201.0" stroke="#111" stroke-width="1.20"/><line x1="1452.6" y1="187.0" x2="1464.6" y2="175.0" stroke="#111" stroke-width="1.20"/><line x1="1452.6" y1="161.0" x2="1464.6" y2="149.0" stroke="#111" stroke-width="1.20"/></g>
<rect x="1620.8" y="158.7" width="10.2" height="1186.3" rx="0.0" fill="#8d918c" stroke="#111" stroke-width="1.60" />
<clipPath id="h1620_158"><rect x="1620.8" y="158.7" width="10.2" height="1186.3"/></clipPath>
<g clip-path="url(#h1620_158)"><line x1="1620.8" y1="1355.2" x2="1631.0" y2="1345.0" stroke="#111" stroke-width="1.20"/><line x1="1620.8" y1="1329.2" x2="1631.0" y2="1319.0" stroke="#111" stroke-width="1.20"/><line x1="1620.8" y1="1303.2" x2="1631.0" y2="1293.0" stroke="#111" stroke-width="1.20"/><line x1="1620.8" y1="1277.2" x2="1631.0" y2="1267.0" stroke="#111" stroke-width="1.20"/><line x1="1620.8" y1="1251.2" x2="1631.0" y2="1241.0" stroke="#111" stroke-width="1.20"/><line x1="1620.8" y1="1225.2" x2="1631.0" y2="1215.0" stroke="#111" stroke-width="1.20"/><line x1="1620.8" y1="1199.2" x2="1631.0" y2="1189.0" stroke="#111" stroke-width="1.20"/><line x1="1620.8" y1="1173.2" x2="1631.0" y2="1163.0" stroke="#111" stroke-width="1.20"/><line x1="1620.8" y1="1147.2" x2="1631.0" y2="1137.0" stroke="#111" stroke-width="1.20"/><line x1="1620.8" y1="1121.2" x2="1631.0" y2="1111.0" stroke="#111" stroke-width="1.20"/><line x1="1620.8" y1="1095.2" x2="1631.0" y2="1085.0" stroke="#111" stroke-width="1.20"/><line x1="1620.8" y1="1069.2" x2="1631.0" y2="1059.0" stroke="#111" stroke-width="1.20"/><line x1="1620.8" y1="1043.2" x2="1631.0" y2="1033.0" stroke="#111" stroke-width="1.20"/><line x1="1620.8" y1="1017.2" x2="1631.0" y2="1007.0" stroke="#111" stroke-width="1.20"/><line x1="1620.8" y1="991.2" x2="1631.0" y2="981.0" stroke="#111" stroke-width="1.20"/><line x1="1620.8" y1="965.2" x2="1631.0" y2="955.0" stroke="#111" stroke-width="1.20"/><line x1="1620.8" y1="939.2" x2="1631.0" y2="929.0" stroke="#111" stroke-width="1.20"/><line x1="1620.8" y1="913.2" x2="1631.0" y2="903.0" stroke="#111" stroke-width="1.20"/><line x1="1620.8" y1="887.2" x2="1631.0" y2="877.0" stroke="#111" stroke-width="1.20"/><line x1="1620.8" y1="861.2" x2="1631.0" y2="851.0" stroke="#111" stroke-width="1.20"/><line x1="1620.8" y1="835.2" x2="1631.0" y2="825.0" stroke="#111" stroke-width="1.20"/><line x1="1620.8" y1="809.2" x2="1631.0" y2="799.0" stroke="#111" stroke-width="1.20"/><line x1="1620.8" y1="783.2" x2="1631.0" y2="773.0" stroke="#111" stroke-width="1.20"/><line x1="1620.8" y1="757.2" x2="1631.0" y2="747.0" stroke="#111" stroke-width="1.20"/><line x1="1620.8" y1="731.2" x2="1631.0" y2="721.0" stroke="#111" stroke-width="1.20"/><line x1="1620.8" y1="705.2" x2="1631.0" y2="695.0" stroke="#111" stroke-width="1.20"/><line x1="1620.8" y1="679.2" x2="1631.0" y2="669.0" stroke="#111" stroke-width="1.20"/><line x1="1620.8" y1="653.2" x2="1631.0" y2="643.0" stroke="#111" stroke-width="1.20"/><line x1="1620.8" y1="627.2" x2="1631.0" y2="617.0" stroke="#111" stroke-width="1.20"/><line x1="1620.8" y1="601.2" x2="1631.0" y2="591.0" stroke="#111" stroke-width="1.20"/><line x1="1620.8" y1="575.2" x2="1631.0" y2="565.0" stroke="#111" stroke-width="1.20"/><line x1="1620.8" y1="549.2" x2="1631.0" y2="539.0" stroke="#111" stroke-width="1.20"/><line x1="1620.8" y1="523.2" x2="1631.0" y2="513.0" stroke="#111" stroke-width="1.20"/><line x1="1620.8" y1="497.2" x2="1631.0" y2="487.0" stroke="#111" stroke-width="1.20"/><line x1="1620.8" y1="471.2" x2="1631.0" y2="461.0" stroke="#111" stroke-width="1.20"/><line x1="1620.8" y1="445.2" x2="1631.0" y2="435.0" stroke="#111" stroke-width="1.20"/><line x1="1620.8" y1="419.2" x2="1631.0" y2="409.0" stroke="#111" stroke-width="1.20"/><line x1="1620.8" y1="393.2" x2="1631.0" y2="383.0" stroke="#111" stroke-width="1.20"/><line x1="1620.8" y1="367.2" x2="1631.0" y2="357.0" stroke="#111" stroke-width="1.20"/><line x1="1620.8" y1="341.2" x2="1631.0" y2="331.0" stroke="#111" stroke-width="1.20"/><line x1="1620.8" y1="315.2" x2="1631.0" y2="305.0" stroke="#111" stroke-width="1.20"/><line x1="1620.8" y1="289.2" x2="1631.0" y2="279.0" stroke="#111" stroke-width="1.20"/><line x1="1620.8" y1="263.2" x2="1631.0" y2="253.0" stroke="#111" stroke-width="1.20"/><line x1="1620.8" y1="237.2" x2="1631.0" y2="227.0" stroke="#111" stroke-width="1.20"/><line x1="1620.8" y1="211.2" x2="1631.0" y2="201.0" stroke="#111" stroke-width="1.20"/><line x1="1620.8" y1="185.2" x2="1631.0" y2="175.0" stroke="#111" stroke-width="1.20"/><line x1="1620.8" y1="159.2" x2="1631.0" y2="149.0" stroke="#111" stroke-width="1.20"/></g>
<line x1="1441.0" y1="158.7" x2="1642.0" y2="158.7" stroke="#111" stroke-width="2.00"/>
<rect x="1453.5" y="267.0" width="10.3" height="14.0" rx="0.0" fill="#5a5d59" stroke="#111" stroke-width="1.20" />
<rect x="1453.5" y="331.0" width="10.3" height="16.0" rx="0.0" fill="#5a5d59" stroke="#111" stroke-width="1.20" />
<rect x="1453.5" y="1201.6" width="10.3" height="12.9" rx="0.0" fill="#5a5d59" stroke="#111" stroke-width="1.20" />
<rect x="1453.5" y="1265.0" width="10.3" height="14.0" rx="0.0" fill="#5a5d59" stroke="#111" stroke-width="1.20" />
<circle cx="1541.7" cy="213.6" r="45.0" fill="#cfcac3" stroke="#111" stroke-width="1.60" />
<circle cx="1541.7" cy="213.6" r="40.0" fill="#b7b2ab" stroke="#111" stroke-width="1.20" />
<circle cx="1541.7" cy="213.6" r="30.4" fill="#a0a3b6" stroke="#000" stroke-width="2.60" />
<path d="M1472.6,257.5 L1610.8,257.5 L1610.8,269 L1601,279.5 L1483,279.5 L1472.6,269 Z" fill="url(#gBeige)" stroke="#111" stroke-width="1.80" />
<line x1="1472.6" y1="263.0" x2="1610.8" y2="263.0" stroke="#333" stroke-width="1.00"/>
<rect x="1464.6" y="279.5" width="156.2" height="1065.5" rx="0.0" fill="#8a8e89" stroke="none" stroke-width="0.00" />
<rect x="1484.0" y="279.5" width="117.0" height="966.5" rx="0.0" fill="#aca8a2" stroke="none" stroke-width="0.00" />
<rect x="1474.0" y="279.5" width="10.0" height="1065.5" rx="0.0" fill="#b9b5af" stroke="#111" stroke-width="1.50" />
<clipPath id="h1474_279"><rect x="1474.0" y="279.5" width="10.0" height="1065.5"/></clipPath>
<g clip-path="url(#h1474_279)"><line x1="1474.0" y1="1355.0" x2="1484.0" y2="1345.0" stroke="#111" stroke-width="1.20"/><line x1="1474.0" y1="1329.0" x2="1484.0" y2="1319.0" stroke="#111" stroke-width="1.20"/><line x1="1474.0" y1="1303.0" x2="1484.0" y2="1293.0" stroke="#111" stroke-width="1.20"/><line x1="1474.0" y1="1277.0" x2="1484.0" y2="1267.0" stroke="#111" stroke-width="1.20"/><line x1="1474.0" y1="1251.0" x2="1484.0" y2="1241.0" stroke="#111" stroke-width="1.20"/><line x1="1474.0" y1="1225.0" x2="1484.0" y2="1215.0" stroke="#111" stroke-width="1.20"/><line x1="1474.0" y1="1199.0" x2="1484.0" y2="1189.0" stroke="#111" stroke-width="1.20"/><line x1="1474.0" y1="1173.0" x2="1484.0" y2="1163.0" stroke="#111" stroke-width="1.20"/><line x1="1474.0" y1="1147.0" x2="1484.0" y2="1137.0" stroke="#111" stroke-width="1.20"/><line x1="1474.0" y1="1121.0" x2="1484.0" y2="1111.0" stroke="#111" stroke-width="1.20"/><line x1="1474.0" y1="1095.0" x2="1484.0" y2="1085.0" stroke="#111" stroke-width="1.20"/><line x1="1474.0" y1="1069.0" x2="1484.0" y2="1059.0" stroke="#111" stroke-width="1.20"/><line x1="1474.0" y1="1043.0" x2="1484.0" y2="1033.0" stroke="#111" stroke-width="1.20"/><line x1="1474.0" y1="1017.0" x2="1484.0" y2="1007.0" stroke="#111" stroke-width="1.20"/><line x1="1474.0" y1="991.0" x2="1484.0" y2="981.0" stroke="#111" stroke-width="1.20"/><line x1="1474.0" y1="965.0" x2="1484.0" y2="955.0" stroke="#111" stroke-width="1.20"/><line x1="1474.0" y1="939.0" x2="1484.0" y2="929.0" stroke="#111" stroke-width="1.20"/><line x1="1474.0" y1="913.0" x2="1484.0" y2="903.0" stroke="#111" stroke-width="1.20"/><line x1="1474.0" y1="887.0" x2="1484.0" y2="877.0" stroke="#111" stroke-width="1.20"/><line x1="1474.0" y1="861.0" x2="1484.0" y2="851.0" stroke="#111" stroke-width="1.20"/><line x1="1474.0" y1="835.0" x2="1484.0" y2="825.0" stroke="#111" stroke-width="1.20"/><line x1="1474.0" y1="809.0" x2="1484.0" y2="799.0" stroke="#111" stroke-width="1.20"/><line x1="1474.0" y1="783.0" x2="1484.0" y2="773.0" stroke="#111" stroke-width="1.20"/><line x1="1474.0" y1="757.0" x2="1484.0" y2="747.0" stroke="#111" stroke-width="1.20"/><line x1="1474.0" y1="731.0" x2="1484.0" y2="721.0" stroke="#111" stroke-width="1.20"/><line x1="1474.0" y1="705.0" x2="1484.0" y2="695.0" stroke="#111" stroke-width="1.20"/><line x1="1474.0" y1="679.0" x2="1484.0" y2="669.0" stroke="#111" stroke-width="1.20"/><line x1="1474.0" y1="653.0" x2="1484.0" y2="643.0" stroke="#111" stroke-width="1.20"/><line x1="1474.0" y1="627.0" x2="1484.0" y2="617.0" stroke="#111" stroke-width="1.20"/><line x1="1474.0" y1="601.0" x2="1484.0" y2="591.0" stroke="#111" stroke-width="1.20"/><line x1="1474.0" y1="575.0" x2="1484.0" y2="565.0" stroke="#111" stroke-width="1.20"/><line x1="1474.0" y1="549.0" x2="1484.0" y2="539.0" stroke="#111" stroke-width="1.20"/><line x1="1474.0" y1="523.0" x2="1484.0" y2="513.0" stroke="#111" stroke-width="1.20"/><line x1="1474.0" y1="497.0" x2="1484.0" y2="487.0" stroke="#111" stroke-width="1.20"/><line x1="1474.0" y1="471.0" x2="1484.0" y2="461.0" stroke="#111" stroke-width="1.20"/><line x1="1474.0" y1="445.0" x2="1484.0" y2="435.0" stroke="#111" stroke-width="1.20"/><line x1="1474.0" y1="419.0" x2="1484.0" y2="409.0" stroke="#111" stroke-width="1.20"/><line x1="1474.0" y1="393.0" x2="1484.0" y2="383.0" stroke="#111" stroke-width="1.20"/><line x1="1474.0" y1="367.0" x2="1484.0" y2="357.0" stroke="#111" stroke-width="1.20"/><line x1="1474.0" y1="341.0" x2="1484.0" y2="331.0" stroke="#111" stroke-width="1.20"/><line x1="1474.0" y1="315.0" x2="1484.0" y2="305.0" stroke="#111" stroke-width="1.20"/><line x1="1474.0" y1="289.0" x2="1484.0" y2="279.0" stroke="#111" stroke-width="1.20"/></g>
<rect x="1601.0" y="279.5" width="10.0" height="1065.5" rx="0.0" fill="#b9b5af" stroke="#111" stroke-width="1.50" />
<clipPath id="h1601_279"><rect x="1601.0" y="279.5" width="10.0" height="1065.5"/></clipPath>
<g clip-path="url(#h1601_279)"><line x1="1601.0" y1="1355.0" x2="1611.0" y2="1345.0" stroke="#111" stroke-width="1.20"/><line x1="1601.0" y1="1329.0" x2="1611.0" y2="1319.0" stroke="#111" stroke-width="1.20"/><line x1="1601.0" y1="1303.0" x2="1611.0" y2="1293.0" stroke="#111" stroke-width="1.20"/><line x1="1601.0" y1="1277.0" x2="1611.0" y2="1267.0" stroke="#111" stroke-width="1.20"/><line x1="1601.0" y1="1251.0" x2="1611.0" y2="1241.0" stroke="#111" stroke-width="1.20"/><line x1="1601.0" y1="1225.0" x2="1611.0" y2="1215.0" stroke="#111" stroke-width="1.20"/><line x1="1601.0" y1="1199.0" x2="1611.0" y2="1189.0" stroke="#111" stroke-width="1.20"/><line x1="1601.0" y1="1173.0" x2="1611.0" y2="1163.0" stroke="#111" stroke-width="1.20"/><line x1="1601.0" y1="1147.0" x2="1611.0" y2="1137.0" stroke="#111" stroke-width="1.20"/><line x1="1601.0" y1="1121.0" x2="1611.0" y2="1111.0" stroke="#111" stroke-width="1.20"/><line x1="1601.0" y1="1095.0" x2="1611.0" y2="1085.0" stroke="#111" stroke-width="1.20"/><line x1="1601.0" y1="1069.0" x2="1611.0" y2="1059.0" stroke="#111" stroke-width="1.20"/><line x1="1601.0" y1="1043.0" x2="1611.0" y2="1033.0" stroke="#111" stroke-width="1.20"/><line x1="1601.0" y1="1017.0" x2="1611.0" y2="1007.0" stroke="#111" stroke-width="1.20"/><line x1="1601.0" y1="991.0" x2="1611.0" y2="981.0" stroke="#111" stroke-width="1.20"/><line x1="1601.0" y1="965.0" x2="1611.0" y2="955.0" stroke="#111" stroke-width="1.20"/><line x1="1601.0" y1="939.0" x2="1611.0" y2="929.0" stroke="#111" stroke-width="1.20"/><line x1="1601.0" y1="913.0" x2="1611.0" y2="903.0" stroke="#111" stroke-width="1.20"/><line x1="1601.0" y1="887.0" x2="1611.0" y2="877.0" stroke="#111" stroke-width="1.20"/><line x1="1601.0" y1="861.0" x2="1611.0" y2="851.0" stroke="#111" stroke-width="1.20"/><line x1="1601.0" y1="835.0" x2="1611.0" y2="825.0" stroke="#111" stroke-width="1.20"/><line x1="1601.0" y1="809.0" x2="1611.0" y2="799.0" stroke="#111" stroke-width="1.20"/><line x1="1601.0" y1="783.0" x2="1611.0" y2="773.0" stroke="#111" stroke-width="1.20"/><line x1="1601.0" y1="757.0" x2="1611.0" y2="747.0" stroke="#111" stroke-width="1.20"/><line x1="1601.0" y1="731.0" x2="1611.0" y2="721.0" stroke="#111" stroke-width="1.20"/><line x1="1601.0" y1="705.0" x2="1611.0" y2="695.0" stroke="#111" stroke-width="1.20"/><line x1="1601.0" y1="679.0" x2="1611.0" y2="669.0" stroke="#111" stroke-width="1.20"/><line x1="1601.0" y1="653.0" x2="1611.0" y2="643.0" stroke="#111" stroke-width="1.20"/><line x1="1601.0" y1="627.0" x2="1611.0" y2="617.0" stroke="#111" stroke-width="1.20"/><line x1="1601.0" y1="601.0" x2="1611.0" y2="591.0" stroke="#111" stroke-width="1.20"/><line x1="1601.0" y1="575.0" x2="1611.0" y2="565.0" stroke="#111" stroke-width="1.20"/><line x1="1601.0" y1="549.0" x2="1611.0" y2="539.0" stroke="#111" stroke-width="1.20"/><line x1="1601.0" y1="523.0" x2="1611.0" y2="513.0" stroke="#111" stroke-width="1.20"/><line x1="1601.0" y1="497.0" x2="1611.0" y2="487.0" stroke="#111" stroke-width="1.20"/><line x1="1601.0" y1="471.0" x2="1611.0" y2="461.0" stroke="#111" stroke-width="1.20"/><line x1="1601.0" y1="445.0" x2="1611.0" y2="435.0" stroke="#111" stroke-width="1.20"/><line x1="1601.0" y1="419.0" x2="1611.0" y2="409.0" stroke="#111" stroke-width="1.20"/><line x1="1601.0" y1="393.0" x2="1611.0" y2="383.0" stroke="#111" stroke-width="1.20"/><line x1="1601.0" y1="367.0" x2="1611.0" y2="357.0" stroke="#111" stroke-width="1.20"/><line x1="1601.0" y1="341.0" x2="1611.0" y2="331.0" stroke="#111" stroke-width="1.20"/><line x1="1601.0" y1="315.0" x2="1611.0" y2="305.0" stroke="#111" stroke-width="1.20"/><line x1="1601.0" y1="289.0" x2="1611.0" y2="279.0" stroke="#111" stroke-width="1.20"/></g>
<line x1="1464.6" y1="158.7" x2="1464.6" y2="1345.0" stroke="#0a0a0a" stroke-width="2.20"/>
<line x1="1620.8" y1="158.7" x2="1620.8" y2="1345.0" stroke="#0a0a0a" stroke-width="2.20"/>
<line x1="1474.0" y1="279.5" x2="1474.0" y2="1345.0" stroke="#0a0a0a" stroke-width="2.00"/>
<line x1="1484.0" y1="279.5" x2="1484.0" y2="1246.0" stroke="#0a0a0a" stroke-width="2.00"/>
<line x1="1601.0" y1="279.5" x2="1601.0" y2="1246.0" stroke="#0a0a0a" stroke-width="2.00"/>
<line x1="1611.0" y1="279.5" x2="1611.0" y2="1345.0" stroke="#0a0a0a" stroke-width="2.00"/>
<rect x="1484.0" y="282.0" width="117.0" height="8.0" rx="0.0" fill="url(#gBeige)" stroke="#111" stroke-width="1.50" />
<path d="M1511,313 Q1512,296 1541,292 Q1570,296 1571,313 Z" fill="url(#gBeige)" stroke="#111" stroke-width="1.40" />
<rect x="1518.0" y="286.0" width="48.0" height="7.0" rx="0.0" fill="#222" stroke="none" stroke-width="0.00" />
<rect x="1505.0" y="313.0" width="73.4" height="27.3" rx="0.0" fill="#d0cbc4" stroke="#111" stroke-width="1.60" />
<line x1="1523.0" y1="313.0" x2="1523.0" y2="340.0" stroke="#111" stroke-width="1.50"/>
<line x1="1560.0" y1="313.0" x2="1560.0" y2="340.0" stroke="#111" stroke-width="1.50"/>
<rect x="1506.0" y="314.0" width="16.0" height="25.0" rx="0.0" fill="#bcb7b0" stroke="none" stroke-width="0.00" />
<rect x="1485.0" y="340.4" width="115.0" height="6.8" rx="0.0" fill="url(#gBeige)" stroke="#111" stroke-width="1.50" />
<rect x="1485.0" y="347.2" width="115.0" height="5.8" rx="0.0" fill="#b5b0a9" stroke="#111" stroke-width="1.20" />
<rect x="1484.0" y="354.6" width="116.0" height="10.4" rx="0.0" fill="url(#gSpring)" stroke="#0a0a0a" stroke-width="2.00" />
<rect x="1484.0" y="367.5" width="116.0" height="5.0" rx="0.0" fill="url(#gSpring)" stroke="#0a0a0a" stroke-width="2.00" />
<rect x="1484.0" y="375.0" width="116.0" height="5.0" rx="0.0" fill="url(#gSpring)" stroke="#0a0a0a" stroke-width="2.00" />
<rect x="1484.0" y="381.7" width="116.0" height="4.9" rx="0.0" fill="url(#gSpring)" stroke="#0a0a0a" stroke-width="2.00" />
<rect x="1484.0" y="388.5" width="116.0" height="5.5" rx="0.0" fill="url(#gSpring)" stroke="#0a0a0a" stroke-width="2.00" />
<rect x="1484.0" y="396.5" width="116.0" height="9.9" rx="0.0" fill="url(#gSpring)" stroke="#0a0a0a" stroke-width="2.00" />
<line x1="1542.0" y1="354.0" x2="1542.0" y2="366.0" stroke="#111" stroke-width="2.20"/>
<line x1="1542.0" y1="396.0" x2="1542.0" y2="407.0" stroke="#111" stroke-width="2.20"/>
<rect x="1485.0" y="408.8" width="115.0" height="6.2" rx="0.0" fill="url(#gBeige)" stroke="#111" stroke-width="1.50" />
<rect x="1487.0" y="417.0" width="111.0" height="3.5" rx="0.0" fill="#9d9892" stroke="#111" stroke-width="1.20" />
<rect x="1484.0" y="421.0" width="19.5" height="825.0" rx="0.0" fill="#6a6663" stroke="#111" stroke-width="1.20" />
<rect x="1581.0" y="421.0" width="20.0" height="825.0" rx="0.0" fill="url(#gDarkR)" stroke="#111" stroke-width="1.20" />
<rect x="1503.5" y="428.0" width="77.5" height="818.0" rx="0.0" fill="url(#gGlass)" stroke="#111" stroke-width="1.60" />
<line x1="1503.5" y1="428.0" x2="1503.5" y2="1246.0" stroke="#0a0a0a" stroke-width="2.40"/>
<path d="M1503.5,428 L1507,422 L1577,422 L1581,428 Z" fill="#c5c9c9" stroke="#111" stroke-width="1.20" />
<path d="M1484,1246 L1601,1246 L1608,1256 L1476,1256 Z" fill="url(#gBeige)" stroke="#111" stroke-width="1.50" />
<rect x="1476.0" y="1256.0" width="131.0" height="9.0" rx="0.0" fill="url(#gBeige)" stroke="#111" stroke-width="1.50" />
<rect x="1476.0" y="1265.0" width="131.0" height="10.0" rx="0.0" fill="#0d0d18" stroke="#111" stroke-width="1.00" />
<rect x="1476.0" y="1275.0" width="131.0" height="6.0" rx="0.0" fill="url(#gBeige)" stroke="#111" stroke-width="1.20" />
<rect x="1476.0" y="1281.0" width="131.0" height="54.0" rx="0.0" fill="#57544f" stroke="#111" stroke-width="2.00" />
<line x1="1478.0" y1="1283.0" x2="1605.0" y2="1283.0" stroke="#0a0a0a" stroke-width="1.30"/>
<line x1="1478.0" y1="1286.8" x2="1605.0" y2="1286.8" stroke="#0a0a0a" stroke-width="1.30"/>
<line x1="1478.0" y1="1290.6" x2="1605.0" y2="1290.6" stroke="#0a0a0a" stroke-width="1.30"/>
<line x1="1478.0" y1="1294.4" x2="1605.0" y2="1294.4" stroke="#0a0a0a" stroke-width="1.30"/>
<line x1="1478.0" y1="1298.2" x2="1605.0" y2="1298.2" stroke="#0a0a0a" stroke-width="1.30"/>
<line x1="1478.0" y1="1302.0" x2="1605.0" y2="1302.0" stroke="#0a0a0a" stroke-width="1.30"/>
<line x1="1478.0" y1="1305.8" x2="1605.0" y2="1305.8" stroke="#0a0a0a" stroke-width="1.30"/>
<line x1="1478.0" y1="1309.6" x2="1605.0" y2="1309.6" stroke="#0a0a0a" stroke-width="1.30"/>
<line x1="1478.0" y1="1313.4" x2="1605.0" y2="1313.4" stroke="#0a0a0a" stroke-width="1.30"/>
<line x1="1478.0" y1="1317.2" x2="1605.0" y2="1317.2" stroke="#0a0a0a" stroke-width="1.30"/>
<line x1="1478.0" y1="1321.0" x2="1605.0" y2="1321.0" stroke="#0a0a0a" stroke-width="1.30"/>
<line x1="1478.0" y1="1324.8" x2="1605.0" y2="1324.8" stroke="#0a0a0a" stroke-width="1.30"/>
<line x1="1478.0" y1="1328.6" x2="1605.0" y2="1328.6" stroke="#0a0a0a" stroke-width="1.30"/>
<line x1="1478.0" y1="1332.4" x2="1605.0" y2="1332.4" stroke="#0a0a0a" stroke-width="1.30"/>
<rect x="1474.0" y="1335.0" width="137.0" height="10.0" rx="0.0" fill="url(#gBeige)" stroke="#111" stroke-width="1.60" />
<rect x="1452.6" y="1345.0" width="178.4" height="10.4" rx="0.0" fill="#878b86" stroke="#111" stroke-width="2.00" />
<rect x="1482.0" y="1345.0" width="120.0" height="10.4" rx="0.0" fill="url(#gBeige)" stroke="#111" stroke-width="1.50" />
<line x1="1466.0" y1="1355.0" x2="1480.0" y2="1346.0" stroke="#222" stroke-width="1.00"/>
<line x1="1606.0" y1="1355.0" x2="1620.0" y2="1346.0" stroke="#222" stroke-width="1.00"/>
<path d="M1391.4,280.3 L1403.6,280.3 L1404.6,282.3 L1404.6,329.6 L1403.6,331.6 L1391.4,331.6 L1388.4,328.6 L1388.4,283.3 Z" fill="#a4a7b8" stroke="none" stroke-width="0.00" />
<rect x="1389.4" y="280.8" width="14.7" height="12.3" rx="0.0" fill="#9c9fb0" stroke="none" stroke-width="0.00" />
<rect x="1389.4" y="294.1" width="14.7" height="24.1" rx="0.0" fill="#a9acbd" stroke="none" stroke-width="0.00" />
<rect x="1389.4" y="319.3" width="14.7" height="11.8" rx="0.0" fill="#70737f" stroke="none" stroke-width="0.00" />
<path d="M1391.4,280.3 L1403.6,280.3 L1404.6,282.3 L1404.6,329.6 L1403.6,331.6 L1391.4,331.6 L1388.4,328.6 L1388.4,283.3 Z" fill="none" stroke="#000" stroke-width="1.80" />
<line x1="1389.9" y1="293.6" x2="1404.6" y2="293.6" stroke="#000" stroke-width="1.50"/>
<line x1="1389.9" y1="318.8" x2="1404.6" y2="318.8" stroke="#000" stroke-width="1.50"/>
<line x1="1404.6" y1="281.3" x2="1404.6" y2="330.6" stroke="#000" stroke-width="2.20"/>
<rect x="1404.6" y="286.5" width="4.0" height="42.6" rx="0.0" fill="#8d857c" stroke="#000" stroke-width="1.00" />
<path d="M1408.6,288.0 Q1424.8,274.0 1441.1,288.0 L1441.1,326.5 Q1441.1,331.6 1424.8,331.6 Q1408.6,331.6 1408.6,326.5 Z" fill="url(#gBall)" stroke="#000" stroke-width="1.60" />
<rect x="1441.1" y="285.4" width="2.5" height="43.6" rx="0.0" fill="#8d857c" stroke="#000" stroke-width="1.00" />
<rect x="1443.6" y="281.8" width="28.1" height="49.8" rx="2.0" fill="url(#gCollar)" stroke="#000" stroke-width="1.60" />
<rect x="1399.0" y="340.0" width="50.6" height="32.0" rx="0.0" fill="#a3a6ba" stroke="none" stroke-width="0.00" />
<rect x="1399.0" y="340.0" width="6.0" height="32.0" rx="0.0" fill="#9b9eb2" stroke="none" stroke-width="0.00" />
<rect x="1429.0" y="340.0" width="20.6" height="32.0" rx="0.0" fill="#9094a8" stroke="none" stroke-width="0.00" />
<rect x="1399.0" y="340.0" width="50.6" height="32.0" rx="3.0" fill="none" stroke="#000" stroke-width="2.20" />
<line x1="1405.0" y1="340.0" x2="1405.0" y2="372.0" stroke="#000" stroke-width="1.80"/>
<line x1="1429.0" y1="340.0" x2="1429.0" y2="372.0" stroke="#000" stroke-width="1.80"/>
<rect x="1410.0" y="331.0" width="28.0" height="9.0" rx="0.0" fill="url(#gTubeD)" stroke="#111" stroke-width="1.20" />
<rect x="1405.0" y="372.0" width="39.0" height="8.0" rx="0.0" fill="#9fa2b6" stroke="#111" stroke-width="1.20" />
<rect x="1400.8" y="380.0" width="47.2" height="23.0" rx="2.0" fill="#9ea1b5" stroke="#000" stroke-width="2.00" />
<line x1="1411.2" y1="383.0" x2="1411.2" y2="403.0" stroke="#000" stroke-width="1.50"/>
<line x1="1415.4" y1="383.0" x2="1415.4" y2="403.0" stroke="#000" stroke-width="1.50"/>
<line x1="1434.8" y1="383.0" x2="1434.8" y2="403.0" stroke="#000" stroke-width="1.50"/>
<line x1="1438.6" y1="383.0" x2="1438.6" y2="403.0" stroke="#000" stroke-width="1.50"/>
<line x1="1400.8" y1="383.0" x2="1448.0" y2="383.0" stroke="#000" stroke-width="1.20"/>
<rect x="1371.5" y="404.0" width="78.5" height="128.0" rx="2.0" fill="#9a9eb0" stroke="#000" stroke-width="2.60" />
<rect x="1400.8" y="534.0" width="47.2" height="22.0" rx="2.0" fill="#9ea1b5" stroke="#000" stroke-width="2.00" />
<line x1="1411.2" y1="537.0" x2="1411.2" y2="556.0" stroke="#000" stroke-width="1.50"/>
<line x1="1415.4" y1="537.0" x2="1415.4" y2="556.0" stroke="#000" stroke-width="1.50"/>
<line x1="1434.8" y1="537.0" x2="1434.8" y2="556.0" stroke="#000" stroke-width="1.50"/>
<line x1="1438.6" y1="537.0" x2="1438.6" y2="556.0" stroke="#000" stroke-width="1.50"/>
<line x1="1400.8" y1="537.0" x2="1448.0" y2="537.0" stroke="#000" stroke-width="1.20"/>
<rect x="1405.0" y="556.0" width="39.0" height="6.0" rx="0.0" fill="#9fa2b6" stroke="#111" stroke-width="1.20" />
<rect x="1400.8" y="564.0" width="47.2" height="32.0" rx="0.0" fill="#a3a6ba" stroke="none" stroke-width="0.00" />
<rect x="1400.8" y="564.0" width="5.2" height="32.0" rx="0.0" fill="#9b9eb2" stroke="none" stroke-width="0.00" />
<rect x="1429.0" y="564.0" width="19.0" height="32.0" rx="0.0" fill="#9094a8" stroke="none" stroke-width="0.00" />
<rect x="1400.8" y="564.0" width="47.2" height="32.0" rx="3.0" fill="none" stroke="#000" stroke-width="2.20" />
<line x1="1406.0" y1="564.0" x2="1406.0" y2="596.0" stroke="#000" stroke-width="1.80"/>
<line x1="1429.0" y1="564.0" x2="1429.0" y2="596.0" stroke="#000" stroke-width="1.80"/>
<rect x="1407.0" y="560.0" width="35.0" height="5.0" rx="2.0" fill="#0a0a0a" stroke="none" stroke-width="0.00" />
<rect x="1412.4" y="596.0" width="24.1" height="600.0" rx="0.0" fill="url(#gTubeD)" stroke="#000" stroke-width="2.00" />
<path d="M1392.0,1218.6 L1404.9,1218.6 L1405.9,1220.6 L1405.9,1261.6 L1404.9,1263.6 L1392.0,1263.6 L1389.0,1260.6 L1389.0,1221.6 Z" fill="#a4a7b8" stroke="none" stroke-width="0.00" />
<rect x="1390.0" y="1219.1" width="15.4" height="21.0" rx="0.0" fill="#a3a6ba" stroke="none" stroke-width="0.00" />
<rect x="1390.0" y="1241.1" width="15.4" height="22.0" rx="0.0" fill="#7d8092" stroke="none" stroke-width="0.00" />
<path d="M1392.0,1218.6 L1404.9,1218.6 L1405.9,1220.6 L1405.9,1261.6 L1404.9,1263.6 L1392.0,1263.6 L1389.0,1260.6 L1389.0,1221.6 Z" fill="none" stroke="#000" stroke-width="1.80" />
<line x1="1390.5" y1="1240.6" x2="1405.9" y2="1240.6" stroke="#000" stroke-width="1.50"/>
<line x1="1405.9" y1="1219.6" x2="1405.9" y2="1262.6" stroke="#000" stroke-width="2.20"/>
<rect x="1405.9" y="1218.6" width="3.1" height="45.0" rx="0.0" fill="#8d857c" stroke="#000" stroke-width="1.00" />
<path d="M1409.0,1218.6 L1440.7,1218.6 L1440.7,1255.6 Q1440.7,1267.6 1424.8,1267.6 Q1409.0,1267.6 1409.0,1255.6 Z" fill="url(#gBall)" stroke="#000" stroke-width="1.60" />
<rect x="1440.7" y="1219.6" width="3.0" height="45.0" rx="0.0" fill="#8d857c" stroke="#000" stroke-width="1.00" />
<rect x="1443.7" y="1216.1" width="26.9" height="49.0" rx="2.0" fill="url(#gCollar)" stroke="#000" stroke-width="1.60" />
<rect x="1408.3" y="1196.0" width="32.4" height="23.0" rx="0.0" fill="url(#gTubeD)" stroke="#000" stroke-width="1.80" />
<rect x="1502.6" y="1355.0" width="78.4" height="65.0" rx="0.0" fill="url(#gPostM)" stroke="#111" stroke-width="1.80" />
<rect x="1522.4" y="1367.0" width="38.1" height="48.0" rx="0.0" fill="#868b8b" stroke="#111" stroke-width="1.60" />
<path d="M1435.5,1514.5 A105.6,100 0 0 1 1646.7,1514.5 Z" fill="#878b86" stroke="#111" stroke-width="2.00" />
<circle cx="1541.5" cy="1456.0" r="30.5" fill="#a0a3b6" stroke="#000" stroke-width="2.60" />
<path d="M1386.0,1556.5 L1386.0,1530.5 Q1386.0,1514.5 1402.0,1514.5 L1685.0,1514.5 Q1701.0,1514.5 1701.0,1530.5 L1701.0,1556.5 Z" fill="#4a4c49" stroke="#111" stroke-width="2.00" />
<path d="M1387.0,1530.5 Q1388.0,1522.5 1402.0,1522.5 L1483.0,1522.5 Q1518.0,1524.5 1543.0,1533.5 Q1568.0,1524.5 1603.0,1522.5 L1685.0,1522.5 Q1699.0,1522.5 1700.0,1530.5 L1700.0,1530.5 Q1700.0,1515.5 1685.0,1515.5 L1402.0,1515.5 Q1387.0,1515.5 1387.0,1530.5 Z" fill="#646763" stroke="none" stroke-width="0.00" />
<path d="M1387.0,1530.5 Q1388.0,1522.5 1402.0,1522.5 L1483.0,1522.5 Q1518.0,1524.5 1543.0,1533.5 Q1568.0,1524.5 1603.0,1522.5 L1685.0,1522.5 Q1699.0,1522.5 1700.0,1530.5" fill="none" stroke="#111" stroke-width="1.60" />
<line x1="1406.0" y1="1514.5" x2="1406.0" y2="1522.5" stroke="#222" stroke-width="1.10"/>
<line x1="1486.0" y1="1514.5" x2="1486.0" y2="1522.5" stroke="#222" stroke-width="1.10"/>
<line x1="1600.0" y1="1514.5" x2="1600.0" y2="1522.5" stroke="#222" stroke-width="1.10"/>
<line x1="1681.0" y1="1514.5" x2="1681.0" y2="1522.5" stroke="#222" stroke-width="1.10"/>
<line x1="1386.0" y1="1545.8" x2="1701.0" y2="1545.8" stroke="#111" stroke-width="1.80"/>
<line x1="1603.0" y1="419.5" x2="1893.0" y2="419.5" stroke="#333" stroke-width="1.50"/>
<line x1="1603.0" y1="1247.3" x2="1893.0" y2="1247.3" stroke="#555" stroke-width="1.50"/>
<line x1="1886.5" y1="419.5" x2="1886.5" y2="1247.3" stroke="#222" stroke-width="1.40"/>
<polygon points="1886.5,419.5 1882.9,439.5 1890.1,439.5" fill="#000"/>
<polygon points="1886.5,1247.3 1882.9,1227.3 1890.1,1227.3" fill="#000"/>
<text transform="translate(1879.0,851.0) rotate(-90)" x="0" y="0" font-size="46" textLength="72.3" lengthAdjust="spacingAndGlyphs" class="t">420</text>
<line x1="1484.0" y1="647.0" x2="1803.0" y2="647.0" stroke="#222" stroke-width="1.30"/>
<polygon points="1484.0,647.0 1504.0,643.4 1504.0,650.6" fill="#000"/>
<polygon points="1601.0,647.0 1581.0,643.4 1581.0,650.6" fill="#000"/>
<text x="1725.0" y="640.0" font-size="46" textLength="81.6" lengthAdjust="spacingAndGlyphs" class="t">&#216;70</text>
<line x1="1474.0" y1="742.7" x2="1803.0" y2="742.7" stroke="#222" stroke-width="1.30"/>
<polygon points="1474.0,742.7 1494.0,739.1 1494.0,746.3" fill="#000"/>
<polygon points="1611.0,742.7 1591.0,739.1 1591.0,746.3" fill="#000"/>
<text x="1725.0" y="735.6" font-size="46" textLength="81.6" lengthAdjust="spacingAndGlyphs" class="t">&#216;80</text>
<line x1="1503.8" y1="1033.0" x2="1779.0" y2="1033.0" stroke="#222" stroke-width="1.30"/>
<polygon points="1503.8,1033.0 1523.8,1029.4 1523.8,1036.6" fill="#000"/>
<polygon points="1581.7,1033.0 1561.7,1029.4 1561.7,1036.6" fill="#000"/>
<text x="1701.0" y="1025.2" font-size="46" textLength="81.6" lengthAdjust="spacingAndGlyphs" class="t">&#216;45</text>
<path d="M2082,1217 L2345,1217 Q2361,1217 2361,1233 L2361,1282 C2361,1295 2336,1305 2336,1325 C2336,1345 2350,1352 2350,1365 C2350,1378 2336,1385 2336,1405 C2336,1425 2361,1432 2361,1445 L2361,1497 Q2361,1513 2345,1513 L2082,1513 Q2066,1513 2066,1497 L2066,1445 C2066,1432 2091,1425 2091,1405 C2091,1385 2077,1378 2077,1365 C2077,1352 2091,1345 2091,1325 C2091,1305 2066,1295 2066,1282 L2066,1233 Q2066,1217 2082,1217 Z" fill="#50524f" stroke="#000" stroke-width="2.50" />
<circle cx="2090.7" cy="1257.0" r="14.2" fill="#fff" stroke="#000" stroke-width="2.00" />
<line x1="2072.2" y1="1257.0" x2="2112.2" y2="1257.0" stroke="#222" stroke-width="1" stroke-dasharray="6,2,2,2"/>
<line x1="2092.2" y1="1237.0" x2="2092.2" y2="1277.0" stroke="#222" stroke-width="1" stroke-dasharray="6,2,2,2"/>
<circle cx="2336.0" cy="1257.0" r="14.2" fill="#fff" stroke="#000" stroke-width="2.00" />
<line x1="2319.5" y1="1257.0" x2="2359.5" y2="1257.0" stroke="#222" stroke-width="1" stroke-dasharray="6,2,2,2"/>
<line x1="2339.5" y1="1237.0" x2="2339.5" y2="1277.0" stroke="#222" stroke-width="1" stroke-dasharray="6,2,2,2"/>
<circle cx="2090.7" cy="1472.3" r="14.2" fill="#fff" stroke="#000" stroke-width="2.00" />
<line x1="2072.2" y1="1472.3" x2="2112.2" y2="1472.3" stroke="#222" stroke-width="1" stroke-dasharray="6,2,2,2"/>
<line x1="2092.2" y1="1452.3" x2="2092.2" y2="1492.3" stroke="#222" stroke-width="1" stroke-dasharray="6,2,2,2"/>
<circle cx="2336.0" cy="1472.3" r="14.2" fill="#fff" stroke="#000" stroke-width="2.00" />
<line x1="2319.5" y1="1472.3" x2="2359.5" y2="1472.3" stroke="#222" stroke-width="1" stroke-dasharray="6,2,2,2"/>
<line x1="2339.5" y1="1452.3" x2="2339.5" y2="1492.3" stroke="#222" stroke-width="1" stroke-dasharray="6,2,2,2"/>
<line x1="2093.8" y1="1166.4" x2="2093.8" y2="1257.0" stroke="#222" stroke-width="1.30"/>
<line x1="2339.5" y1="1166.4" x2="2339.5" y2="1257.0" stroke="#222" stroke-width="1.30"/>
<line x1="2093.8" y1="1172.2" x2="2339.5" y2="1172.2" stroke="#222" stroke-width="1.30"/>
<polygon points="2093.8,1172.2 2113.8,1168.6 2113.8,1175.8" fill="#000"/>
<polygon points="2339.5,1172.2 2319.5,1168.6 2319.5,1175.8" fill="#000"/>
<text x="2170.7" y="1163.2" font-size="46" textLength="65.6" lengthAdjust="spacingAndGlyphs" class="t">125</text>
<line x1="1933.6" y1="1217.5" x2="2078.0" y2="1217.5" stroke="#222" stroke-width="1.30"/>
<line x1="1933.6" y1="1512.5" x2="2070.0" y2="1512.5" stroke="#222" stroke-width="1.30"/>
<line x1="1938.4" y1="1217.5" x2="1938.4" y2="1512.5" stroke="#222" stroke-width="1.30"/>
<polygon points="1938.4,1217.5 1934.8,1237.5 1942.0,1237.5" fill="#000"/>
<polygon points="1938.4,1512.5 1934.8,1492.5 1942.0,1492.5" fill="#000"/>
<text transform="translate(1930.4,1392.3) rotate(-90)" x="0" y="0" font-size="46" textLength="65.7" lengthAdjust="spacingAndGlyphs" class="t">150</text>
<line x1="1991.3" y1="1257.0" x2="2113.0" y2="1257.0" stroke="#222" stroke-width="1.30"/>
<line x1="1991.3" y1="1472.3" x2="2113.0" y2="1472.3" stroke="#222" stroke-width="1.30"/>
<line x1="1996.0" y1="1257.0" x2="1996.0" y2="1472.3" stroke="#222" stroke-width="1.30"/>
<polygon points="1996.0,1257.0 1992.4,1277.0 1999.6,1277.0" fill="#000"/>
<polygon points="1996.0,1472.3 1992.4,1452.3 1999.6,1452.3" fill="#000"/>
<text transform="translate(1989.7,1392.3) rotate(-90)" x="0" y="0" font-size="46" textLength="65.7" lengthAdjust="spacingAndGlyphs" class="t">110</text>
<line x1="2068.8" y1="1513.0" x2="2068.8" y2="1591.0" stroke="#222" stroke-width="1.30"/>
<line x1="2364.4" y1="1498.0" x2="2364.4" y2="1591.0" stroke="#222" stroke-width="1.30"/>
<line x1="2068.8" y1="1586.0" x2="2364.4" y2="1586.0" stroke="#222" stroke-width="1.30"/>
<polygon points="2068.8,1586.0 2088.8,1582.4 2088.8,1589.6" fill="#000"/>
<polygon points="2364.4,1586.0 2344.4,1582.4 2344.4,1589.6" fill="#000"/>
<text x="2196.3" y="1576.4" font-size="46" textLength="65.7" lengthAdjust="spacingAndGlyphs" class="t">150</text>
<line x1="2092.2" y1="1472.3" x2="1999.5" y2="1614.2" stroke="#000" stroke-width="1.30"/>
<line x1="1820.9" y1="1614.2" x2="1999.5" y2="1614.2" stroke="#222" stroke-width="1.50"/>
<circle cx="1846.0" cy="1588.6" r="14.6" fill="none" stroke="#000" stroke-width="1.30" />
<line x1="1837.9" y1="1608.6" x2="1854.6" y2="1568.0" stroke="#000" stroke-width="1.30"/>
<text x="1879.0" y="1605.3" font-size="46" textLength="113.7" lengthAdjust="spacingAndGlyphs" class="t">15(*4)</text>
<rect x="1269.0" y="88.0" width="2.0" height="1.5" rx="0.0" fill="#888" stroke="none" stroke-width="0.00" />
<line x1="1270.0" y1="1665.0" x2="1270.0" y2="1678.0" stroke="#b5b5b5" stroke-width="2.00"/>
</svg>
</body></html>
